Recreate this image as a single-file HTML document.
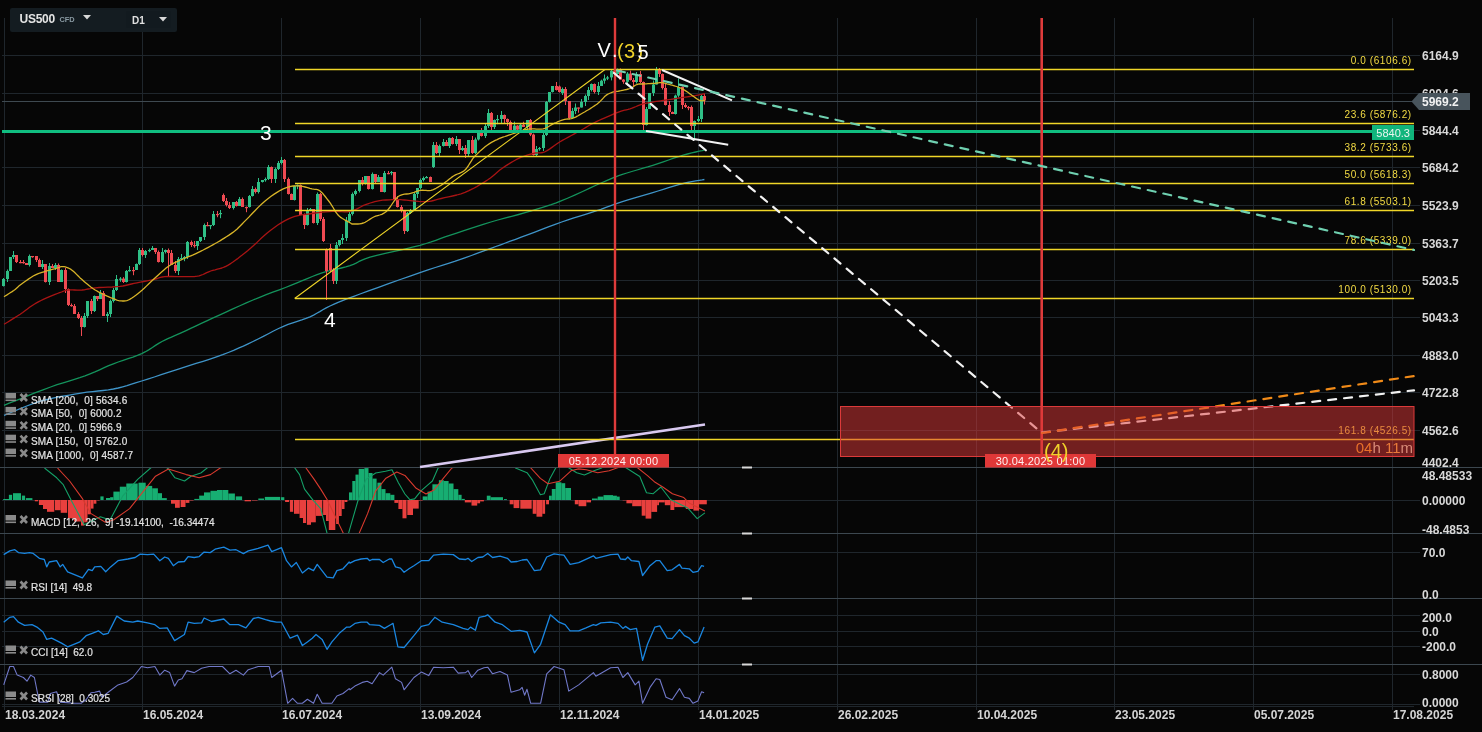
<!DOCTYPE html><html><head><meta charset="utf-8"><style>html,body{margin:0;padding:0;background:#060606;width:1482px;height:732px;overflow:hidden;position:relative}</style></head><body><svg width="1482" height="732" viewBox="0 0 1482 732" style="position:absolute;left:0;top:0;will-change:transform;font-family:'Liberation Sans', sans-serif">
<rect width="1482" height="732" fill="#060606"/>
<defs><clipPath id="cmain"><rect x="0" y="18" width="1420" height="449"/></clipPath><clipPath id="cmacd"><rect x="0" y="468" width="1420" height="65"/></clipPath><clipPath id="crsi"><rect x="0" y="534" width="1420" height="64"/></clipPath><clipPath id="ccci"><rect x="0" y="599" width="1420" height="65"/></clipPath><clipPath id="csrsi"><rect x="0" y="665" width="1420" height="44"/></clipPath></defs>
<line x1="4.5" y1="18" x2="4.5" y2="710" stroke="#1f262c" stroke-width="1"/>
<line x1="142.5" y1="18" x2="142.5" y2="710" stroke="#1f262c" stroke-width="1"/>
<line x1="281.5" y1="18" x2="281.5" y2="710" stroke="#1f262c" stroke-width="1"/>
<line x1="420.5" y1="18" x2="420.5" y2="710" stroke="#1f262c" stroke-width="1"/>
<line x1="559.5" y1="18" x2="559.5" y2="710" stroke="#1f262c" stroke-width="1"/>
<line x1="698.5" y1="18" x2="698.5" y2="710" stroke="#1f262c" stroke-width="1"/>
<line x1="837.5" y1="18" x2="837.5" y2="710" stroke="#1f262c" stroke-width="1"/>
<line x1="976.5" y1="18" x2="976.5" y2="710" stroke="#1f262c" stroke-width="1"/>
<line x1="1114.5" y1="18" x2="1114.5" y2="710" stroke="#1f262c" stroke-width="1"/>
<line x1="1253.5" y1="18" x2="1253.5" y2="710" stroke="#1f262c" stroke-width="1"/>
<line x1="1392.5" y1="18" x2="1392.5" y2="710" stroke="#1f262c" stroke-width="1"/>
<line x1="2" y1="55.5" x2="1420" y2="55.5" stroke="#1f262c" stroke-width="1"/>
<line x1="2" y1="93.5" x2="1420" y2="93.5" stroke="#1f262c" stroke-width="1"/>
<line x1="2" y1="130.5" x2="1420" y2="130.5" stroke="#1f262c" stroke-width="1"/>
<line x1="2" y1="167.5" x2="1420" y2="167.5" stroke="#1f262c" stroke-width="1"/>
<line x1="2" y1="205.5" x2="1420" y2="205.5" stroke="#1f262c" stroke-width="1"/>
<line x1="2" y1="243.5" x2="1420" y2="243.5" stroke="#1f262c" stroke-width="1"/>
<line x1="2" y1="280.5" x2="1420" y2="280.5" stroke="#1f262c" stroke-width="1"/>
<line x1="2" y1="317.5" x2="1420" y2="317.5" stroke="#1f262c" stroke-width="1"/>
<line x1="2" y1="355.5" x2="1420" y2="355.5" stroke="#1f262c" stroke-width="1"/>
<line x1="2" y1="392.5" x2="1420" y2="392.5" stroke="#1f262c" stroke-width="1"/>
<line x1="2" y1="430.5" x2="1420" y2="430.5" stroke="#1f262c" stroke-width="1"/>
<line x1="2" y1="552.5" x2="1420" y2="552.5" stroke="#1f262c" stroke-width="1"/>
<line x1="2" y1="615.5" x2="1420" y2="615.5" stroke="#1f262c" stroke-width="1"/>
<line x1="2" y1="631.5" x2="1420" y2="631.5" stroke="#1f262c" stroke-width="1"/>
<line x1="2" y1="646.5" x2="1420" y2="646.5" stroke="#1f262c" stroke-width="1"/>
<line x1="2" y1="674.5" x2="1420" y2="674.5" stroke="#1f262c" stroke-width="1"/>
<line x1="2" y1="704.5" x2="1420" y2="704.5" stroke="#1f262c" stroke-width="1"/>
<line x1="2" y1="706.5" x2="1414" y2="706.5" stroke="#1f262c" stroke-width="1"/>
<line x1="2" y1="500.5" x2="1420" y2="500.5" stroke="#1f262c" stroke-width="1"/>
<line x1="0" y1="467.5" x2="1482" y2="467.5" stroke="#3c474f" stroke-width="1.2"/>
<rect x="742" y="466.5" width="10" height="2" fill="#d8d8d8"/>
<line x1="0" y1="533.5" x2="1482" y2="533.5" stroke="#3c474f" stroke-width="1.2"/>
<rect x="742" y="532.5" width="10" height="2" fill="#d8d8d8"/>
<line x1="0" y1="598.5" x2="1482" y2="598.5" stroke="#3c474f" stroke-width="1.2"/>
<rect x="742" y="597.5" width="10" height="2" fill="#d8d8d8"/>
<line x1="0" y1="664.5" x2="1482" y2="664.5" stroke="#3c474f" stroke-width="1.2"/>
<rect x="742" y="663.5" width="10" height="2" fill="#d8d8d8"/>
<line x1="2" y1="101.5" x2="1412" y2="101.5" stroke="#3e4950" stroke-width="1"/>
<g clip-path="url(#cmain)">
<path d="M4.0,415.4 L7.9,413.8 L13.3,411.5 L19.7,408.8 L26.7,406.0 L33.8,403.4 L40.5,401.2 L47.1,399.5 L54.0,397.9 L61.0,396.5 L68.0,395.3 L74.7,394.1 L81.0,393.1 L86.9,392.2 L92.6,391.6 L98.0,391.0 L103.2,390.5 L108.3,389.9 L113.4,389.0 L118.2,388.0 L122.7,386.8 L127.0,385.6 L131.5,384.2 L136.3,382.7 L141.7,381.0 L147.7,379.1 L154.3,377.0 L161.2,374.7 L168.2,372.4 L175.3,370.1 L182.2,367.8 L189.1,365.6 L196.1,363.4 L203.1,361.3 L210.0,359.1 L216.5,356.9 L222.7,354.7 L228.3,352.5 L233.6,350.4 L238.5,348.2 L243.3,346.1 L248.1,343.8 L253.0,341.5 L258.1,339.0 L263.3,336.4 L268.4,333.7 L273.5,331.0 L278.6,328.5 L283.4,326.3 L288.1,324.4 L292.8,322.8 L297.3,321.3 L301.8,319.9 L306.0,318.4 L310.0,316.8 L313.6,315.1 L316.8,313.3 L319.8,311.6 L322.8,309.7 L326.2,307.9 L330.0,306.0 L334.1,304.2 L338.1,302.4 L342.5,300.7 L347.4,298.7 L353.1,296.6 L360.0,294.0 L368.5,290.9 L378.5,287.3 L389.3,283.4 L400.3,279.5 L410.8,275.8 L420.0,272.6 L428.0,269.9 L435.3,267.5 L442.1,265.4 L448.5,263.3 L454.6,261.4 L460.5,259.4 L466.2,257.4 L471.4,255.5 L476.3,253.7 L481.1,251.9 L486.0,250.1 L490.9,248.3 L495.8,246.5 L500.6,244.8 L505.4,243.0 L510.3,241.2 L515.6,239.3 L521.2,237.2 L527.4,234.9 L534.2,232.3 L541.2,229.6 L548.3,226.9 L555.2,224.3 L561.7,222.0 L567.9,219.9 L573.9,217.9 L579.8,216.1 L585.5,214.3 L590.9,212.6 L596.1,210.9 L600.9,209.3 L605.3,207.7 L609.5,206.2 L613.6,204.7 L617.9,203.2 L622.4,201.7 L627.2,200.2 L632.2,198.7 L637.3,197.1 L642.5,195.6 L647.7,194.1 L652.8,192.6 L658.0,191.0 L663.3,189.4 L668.6,187.7 L673.7,186.2 L678.7,184.7 L683.2,183.5 L687.5,182.5 L691.7,181.6 L695.7,180.9 L699.2,180.3 L702.2,179.9 L704.4,179.5" fill="none" stroke="#3f94c8" stroke-width="1.3" stroke-linejoin="round" />
<path d="M4.0,405.3 L9.2,403.2 L16.5,400.3 L25.2,396.8 L34.2,393.2 L43.0,389.8 L50.6,387.0 L57.1,384.7 L63.2,382.8 L68.9,381.1 L74.4,379.4 L79.8,377.7 L85.0,375.9 L90.1,373.9 L94.9,371.9 L99.6,369.8 L104.2,367.7 L108.7,365.7 L113.4,363.8 L118.2,362.0 L123.1,360.3 L128.1,358.7 L132.9,357.1 L137.4,355.4 L141.7,353.6 L145.5,351.7 L149.1,349.6 L152.4,347.5 L155.5,345.4 L158.7,343.4 L162.0,341.5 L165.3,339.9 L168.4,338.4 L171.5,337.1 L174.7,335.7 L178.2,334.2 L182.2,332.4 L186.6,330.4 L191.2,328.2 L196.1,325.9 L201.3,323.4 L206.8,320.9 L212.6,318.2 L218.8,315.4 L225.4,312.3 L232.3,309.1 L239.3,306.0 L246.3,302.9 L253.0,300.0 L259.6,297.3 L266.2,294.7 L272.8,292.2 L279.3,289.8 L285.5,287.5 L291.4,285.2 L297.0,282.9 L302.3,280.7 L307.3,278.6 L312.3,276.5 L317.1,274.6 L322.0,272.9 L326.9,271.4 L331.8,270.2 L336.7,269.1 L341.4,268.0 L345.8,266.9 L350.0,265.7 L353.4,264.4 L356.1,263.1 L358.6,261.7 L361.4,260.3 L365.0,258.8 L370.0,257.2 L376.8,255.4 L385.2,253.4 L394.3,251.4 L403.7,249.3 L412.5,247.2 L420.0,245.3 L426.1,243.5 L431.2,241.9 L435.8,240.3 L440.2,238.7 L445.0,236.9 L450.4,235.1 L456.6,233.1 L463.2,230.9 L470.0,228.6 L477.0,226.3 L484.0,224.1 L490.9,222.0 L497.8,220.0 L504.7,218.1 L511.7,216.3 L518.6,214.5 L525.1,212.7 L531.3,210.9 L536.8,209.2 L541.8,207.7 L546.5,206.2 L551.2,204.7 L556.2,202.9 L561.7,200.7 L568.1,198.0 L575.2,194.9 L582.6,191.5 L589.8,188.1 L596.5,185.0 L602.2,182.5 L606.6,180.6 L610.1,179.1 L612.9,177.9 L615.7,176.8 L618.7,175.7 L622.4,174.4 L626.9,173.0 L631.8,171.5 L637.0,170.0 L642.3,168.4 L647.6,166.9 L652.8,165.3 L658.0,163.6 L663.3,161.8 L668.6,160.0 L673.7,158.2 L678.7,156.6 L683.2,155.2 L687.5,154.0 L691.7,152.9 L695.7,152.0 L699.2,151.2 L702.2,150.6 L704.4,150.1" fill="none" stroke="#14935c" stroke-width="1.3" stroke-linejoin="round" />
<rect x="3" y="278.0" width="1" height="8.5" fill="#2fbf86"/>
<rect x="2" y="279.0" width="3" height="7.0" fill="#2fbf86"/>
<rect x="7" y="269.5" width="1" height="12.5" fill="#2fbf86"/>
<rect x="6" y="271.0" width="3" height="8.0" fill="#2fbf86"/>
<rect x="10" y="257.0" width="1" height="14.0" fill="#2fbf86"/>
<rect x="9" y="257.0" width="3" height="14.0" fill="#2fbf86"/>
<rect x="13" y="251.0" width="1" height="8.0" fill="#2fbf86"/>
<rect x="12" y="255.0" width="3" height="2.0" fill="#2fbf86"/>
<rect x="16" y="255.0" width="1" height="8.0" fill="#ef4a52"/>
<rect x="15" y="255.0" width="3" height="7.0" fill="#ef4a52"/>
<rect x="20" y="260.0" width="1" height="3.2" fill="#ef4a52"/>
<rect x="19" y="262.0" width="3" height="1.2" fill="#ef4a52"/>
<rect x="23" y="260.0" width="1" height="3.7" fill="#ef4a52"/>
<rect x="22" y="262.0" width="3" height="1.2" fill="#ef4a52"/>
<rect x="26" y="263.0" width="1" height="2.0" fill="#ef4a52"/>
<rect x="25" y="263.0" width="3" height="2.0" fill="#ef4a52"/>
<rect x="29" y="254.5" width="1" height="12.0" fill="#2fbf86"/>
<rect x="28" y="256.0" width="3" height="9.0" fill="#2fbf86"/>
<rect x="32" y="256.0" width="1" height="1.7" fill="#ef4a52"/>
<rect x="31" y="256.0" width="3" height="1.2" fill="#ef4a52"/>
<rect x="36" y="256.0" width="1" height="6.0" fill="#ef4a52"/>
<rect x="35" y="256.0" width="3" height="4.0" fill="#ef4a52"/>
<rect x="39" y="258.5" width="1" height="8.5" fill="#ef4a52"/>
<rect x="38" y="260.0" width="3" height="7.0" fill="#ef4a52"/>
<rect x="42" y="260.0" width="1" height="9.0" fill="#2fbf86"/>
<rect x="41" y="264.0" width="3" height="3.0" fill="#2fbf86"/>
<rect x="45" y="264.0" width="1" height="18.5" fill="#ef4a52"/>
<rect x="44" y="264.0" width="3" height="18.0" fill="#ef4a52"/>
<rect x="49" y="263.0" width="1" height="22.0" fill="#2fbf86"/>
<rect x="48" y="266.0" width="3" height="16.0" fill="#2fbf86"/>
<rect x="52" y="264.0" width="1" height="4.0" fill="#ef4a52"/>
<rect x="51" y="266.0" width="3" height="2.0" fill="#ef4a52"/>
<rect x="55" y="263.0" width="1" height="7.0" fill="#2fbf86"/>
<rect x="54" y="265.0" width="3" height="3.0" fill="#2fbf86"/>
<rect x="58" y="263.5" width="1" height="18.5" fill="#ef4a52"/>
<rect x="57" y="265.0" width="3" height="17.0" fill="#ef4a52"/>
<rect x="61" y="269.5" width="1" height="12.5" fill="#2fbf86"/>
<rect x="60" y="270.0" width="3" height="12.0" fill="#2fbf86"/>
<rect x="65" y="268.0" width="1" height="25.0" fill="#ef4a52"/>
<rect x="64" y="270.0" width="3" height="19.0" fill="#ef4a52"/>
<rect x="68" y="288.5" width="1" height="17.5" fill="#ef4a52"/>
<rect x="67" y="289.0" width="3" height="16.0" fill="#ef4a52"/>
<rect x="71" y="303.5" width="1" height="3.2" fill="#ef4a52"/>
<rect x="70" y="305.0" width="3" height="1.2" fill="#ef4a52"/>
<rect x="74" y="304.0" width="1" height="10.0" fill="#ef4a52"/>
<rect x="73" y="306.0" width="3" height="8.0" fill="#ef4a52"/>
<rect x="78" y="312.0" width="1" height="7.0" fill="#ef4a52"/>
<rect x="77" y="314.0" width="3" height="4.0" fill="#ef4a52"/>
<rect x="81" y="316.0" width="1" height="20.0" fill="#ef4a52"/>
<rect x="80" y="318.0" width="3" height="9.0" fill="#ef4a52"/>
<rect x="84" y="313.0" width="1" height="14.5" fill="#2fbf86"/>
<rect x="83" y="316.0" width="3" height="11.0" fill="#2fbf86"/>
<rect x="87" y="301.0" width="1" height="17.0" fill="#2fbf86"/>
<rect x="86" y="301.0" width="3" height="15.0" fill="#2fbf86"/>
<rect x="91" y="299.0" width="1" height="15.0" fill="#ef4a52"/>
<rect x="90" y="301.0" width="3" height="10.0" fill="#ef4a52"/>
<rect x="94" y="295.5" width="1" height="16.5" fill="#2fbf86"/>
<rect x="93" y="296.0" width="3" height="15.0" fill="#2fbf86"/>
<rect x="97" y="296.0" width="1" height="5.0" fill="#ef4a52"/>
<rect x="96" y="296.0" width="3" height="3.0" fill="#ef4a52"/>
<rect x="100" y="290.0" width="1" height="9.0" fill="#2fbf86"/>
<rect x="99" y="293.0" width="3" height="6.0" fill="#2fbf86"/>
<rect x="103" y="291.0" width="1" height="25.0" fill="#ef4a52"/>
<rect x="102" y="293.0" width="3" height="23.0" fill="#ef4a52"/>
<rect x="107" y="312.0" width="1" height="10.0" fill="#2fbf86"/>
<rect x="106" y="314.0" width="3" height="2.0" fill="#2fbf86"/>
<rect x="110" y="299.5" width="1" height="17.5" fill="#2fbf86"/>
<rect x="109" y="301.0" width="3" height="13.0" fill="#2fbf86"/>
<rect x="113" y="288.0" width="1" height="14.5" fill="#2fbf86"/>
<rect x="112" y="290.0" width="3" height="11.0" fill="#2fbf86"/>
<rect x="116" y="275.0" width="1" height="16.0" fill="#2fbf86"/>
<rect x="115" y="279.0" width="3" height="11.0" fill="#2fbf86"/>
<rect x="120" y="277.1" width="1" height="4.7" fill="#2fbf86"/>
<rect x="119" y="278.6" width="3" height="1.2" fill="#2fbf86"/>
<rect x="123" y="277.1" width="1" height="5.9" fill="#ef4a52"/>
<rect x="122" y="278.6" width="3" height="3.4" fill="#ef4a52"/>
<rect x="126" y="270.0" width="1" height="12.5" fill="#2fbf86"/>
<rect x="125" y="271.0" width="3" height="11.0" fill="#2fbf86"/>
<rect x="129" y="266.0" width="1" height="5.7" fill="#2fbf86"/>
<rect x="128" y="270.0" width="3" height="1.2" fill="#2fbf86"/>
<rect x="133" y="267.0" width="1" height="8.2" fill="#ef4a52"/>
<rect x="132" y="270.0" width="3" height="1.2" fill="#ef4a52"/>
<rect x="136" y="263.5" width="1" height="6.5" fill="#2fbf86"/>
<rect x="135" y="264.0" width="3" height="6.0" fill="#2fbf86"/>
<rect x="139" y="248.0" width="1" height="17.0" fill="#2fbf86"/>
<rect x="138" y="250.0" width="3" height="14.0" fill="#2fbf86"/>
<rect x="142" y="248.0" width="1" height="8.5" fill="#ef4a52"/>
<rect x="141" y="250.0" width="3" height="5.0" fill="#ef4a52"/>
<rect x="145" y="250.0" width="1" height="8.0" fill="#2fbf86"/>
<rect x="144" y="251.0" width="3" height="4.0" fill="#2fbf86"/>
<rect x="149" y="248.5" width="1" height="3.7" fill="#2fbf86"/>
<rect x="148" y="250.0" width="3" height="1.2" fill="#2fbf86"/>
<rect x="152" y="246.0" width="1" height="4.0" fill="#2fbf86"/>
<rect x="151" y="248.0" width="3" height="2.0" fill="#2fbf86"/>
<rect x="155" y="248.0" width="1" height="6.0" fill="#ef4a52"/>
<rect x="154" y="248.0" width="3" height="4.0" fill="#ef4a52"/>
<rect x="158" y="250.5" width="1" height="12.0" fill="#ef4a52"/>
<rect x="157" y="252.0" width="3" height="10.0" fill="#ef4a52"/>
<rect x="162" y="248.0" width="1" height="15.0" fill="#2fbf86"/>
<rect x="161" y="252.0" width="3" height="10.0" fill="#2fbf86"/>
<rect x="165" y="249.5" width="1" height="4.0" fill="#2fbf86"/>
<rect x="164" y="250.0" width="3" height="2.0" fill="#2fbf86"/>
<rect x="168" y="248.5" width="1" height="27.5" fill="#ef4a52"/>
<rect x="167" y="250.0" width="3" height="3.0" fill="#ef4a52"/>
<rect x="171" y="250.0" width="1" height="15.0" fill="#ef4a52"/>
<rect x="170" y="253.0" width="3" height="12.0" fill="#ef4a52"/>
<rect x="175" y="261.0" width="1" height="12.0" fill="#ef4a52"/>
<rect x="174" y="265.0" width="3" height="6.0" fill="#ef4a52"/>
<rect x="178" y="257.0" width="1" height="18.0" fill="#2fbf86"/>
<rect x="177" y="259.0" width="3" height="12.0" fill="#2fbf86"/>
<rect x="181" y="254.0" width="1" height="6.2" fill="#2fbf86"/>
<rect x="180" y="258.0" width="3" height="1.2" fill="#2fbf86"/>
<rect x="184" y="256.0" width="1" height="5.2" fill="#2fbf86"/>
<rect x="183" y="257.0" width="3" height="1.2" fill="#2fbf86"/>
<rect x="187" y="241.0" width="1" height="18.0" fill="#2fbf86"/>
<rect x="186" y="242.0" width="3" height="15.0" fill="#2fbf86"/>
<rect x="191" y="240.5" width="1" height="6.5" fill="#ef4a52"/>
<rect x="190" y="242.0" width="3" height="3.0" fill="#ef4a52"/>
<rect x="194" y="241.0" width="1" height="6.7" fill="#ef4a52"/>
<rect x="193" y="245.0" width="3" height="1.2" fill="#ef4a52"/>
<rect x="197" y="241.0" width="1" height="9.0" fill="#2fbf86"/>
<rect x="196" y="241.0" width="3" height="5.0" fill="#2fbf86"/>
<rect x="200" y="237.0" width="1" height="5.0" fill="#2fbf86"/>
<rect x="199" y="237.0" width="3" height="4.0" fill="#2fbf86"/>
<rect x="204" y="223.5" width="1" height="16.5" fill="#2fbf86"/>
<rect x="203" y="225.0" width="3" height="12.0" fill="#2fbf86"/>
<rect x="207" y="222.0" width="1" height="4.2" fill="#ef4a52"/>
<rect x="206" y="225.0" width="3" height="1.2" fill="#ef4a52"/>
<rect x="210" y="225.0" width="1" height="4.2" fill="#2fbf86"/>
<rect x="209" y="225.0" width="3" height="1.2" fill="#2fbf86"/>
<rect x="213" y="211.0" width="1" height="15.0" fill="#2fbf86"/>
<rect x="212" y="214.0" width="3" height="11.0" fill="#2fbf86"/>
<rect x="217" y="211.0" width="1" height="6.2" fill="#ef4a52"/>
<rect x="216" y="214.0" width="3" height="1.2" fill="#ef4a52"/>
<rect x="220" y="210.0" width="1" height="8.2" fill="#2fbf86"/>
<rect x="219" y="213.0" width="3" height="1.2" fill="#2fbf86"/>
<rect x="223" y="193.5" width="1" height="8.5" fill="#ef4a52"/>
<rect x="222" y="195.0" width="3" height="6.0" fill="#ef4a52"/>
<rect x="226" y="198.0" width="1" height="8.5" fill="#ef4a52"/>
<rect x="225" y="201.0" width="3" height="4.0" fill="#ef4a52"/>
<rect x="229" y="202.0" width="1" height="7.0" fill="#ef4a52"/>
<rect x="228" y="205.0" width="3" height="3.0" fill="#ef4a52"/>
<rect x="233" y="202.0" width="1" height="7.5" fill="#2fbf86"/>
<rect x="232" y="202.0" width="3" height="6.0" fill="#2fbf86"/>
<rect x="236" y="201.0" width="1" height="5.5" fill="#ef4a52"/>
<rect x="235" y="202.0" width="3" height="4.0" fill="#ef4a52"/>
<rect x="239" y="197.0" width="1" height="9.0" fill="#2fbf86"/>
<rect x="238" y="199.0" width="3" height="7.0" fill="#2fbf86"/>
<rect x="242" y="197.5" width="1" height="9.5" fill="#ef4a52"/>
<rect x="241" y="199.0" width="3" height="8.0" fill="#ef4a52"/>
<rect x="246" y="206.5" width="1" height="5.7" fill="#ef4a52"/>
<rect x="245" y="207.0" width="3" height="1.2" fill="#ef4a52"/>
<rect x="249" y="195.0" width="1" height="12.5" fill="#2fbf86"/>
<rect x="248" y="196.0" width="3" height="11.0" fill="#2fbf86"/>
<rect x="252" y="186.0" width="1" height="10.5" fill="#2fbf86"/>
<rect x="251" y="189.0" width="3" height="7.0" fill="#2fbf86"/>
<rect x="255" y="187.5" width="1" height="6.0" fill="#ef4a52"/>
<rect x="254" y="189.0" width="3" height="3.0" fill="#ef4a52"/>
<rect x="258" y="178.0" width="1" height="15.5" fill="#2fbf86"/>
<rect x="257" y="182.0" width="3" height="10.0" fill="#2fbf86"/>
<rect x="262" y="180.0" width="1" height="2.5" fill="#2fbf86"/>
<rect x="261" y="180.0" width="3" height="2.0" fill="#2fbf86"/>
<rect x="265" y="177.5" width="1" height="4.2" fill="#2fbf86"/>
<rect x="264" y="179.0" width="3" height="1.2" fill="#2fbf86"/>
<rect x="268" y="165.0" width="1" height="15.0" fill="#2fbf86"/>
<rect x="267" y="167.0" width="3" height="12.0" fill="#2fbf86"/>
<rect x="271" y="166.5" width="1" height="16.5" fill="#ef4a52"/>
<rect x="270" y="167.0" width="3" height="12.0" fill="#ef4a52"/>
<rect x="275" y="167.5" width="1" height="15.5" fill="#2fbf86"/>
<rect x="274" y="169.0" width="3" height="10.0" fill="#2fbf86"/>
<rect x="278" y="161.0" width="1" height="9.0" fill="#2fbf86"/>
<rect x="277" y="163.0" width="3" height="6.0" fill="#2fbf86"/>
<rect x="281" y="157.0" width="1" height="7.5" fill="#2fbf86"/>
<rect x="280" y="160.0" width="3" height="3.0" fill="#2fbf86"/>
<rect x="284" y="159.0" width="1" height="23.0" fill="#ef4a52"/>
<rect x="283" y="160.0" width="3" height="19.0" fill="#ef4a52"/>
<rect x="288" y="177.5" width="1" height="17.0" fill="#ef4a52"/>
<rect x="287" y="179.0" width="3" height="15.0" fill="#ef4a52"/>
<rect x="291" y="193.5" width="1" height="6.5" fill="#ef4a52"/>
<rect x="290" y="194.0" width="3" height="6.0" fill="#ef4a52"/>
<rect x="294" y="185.5" width="1" height="15.0" fill="#2fbf86"/>
<rect x="293" y="186.0" width="3" height="14.0" fill="#2fbf86"/>
<rect x="297" y="184.5" width="1" height="4.7" fill="#2fbf86"/>
<rect x="296" y="185.0" width="3" height="1.2" fill="#2fbf86"/>
<rect x="300" y="184.5" width="1" height="30.5" fill="#ef4a52"/>
<rect x="299" y="185.0" width="3" height="30.0" fill="#ef4a52"/>
<rect x="304" y="213.5" width="1" height="15.5" fill="#ef4a52"/>
<rect x="303" y="215.0" width="3" height="10.0" fill="#ef4a52"/>
<rect x="307" y="208.0" width="1" height="17.5" fill="#2fbf86"/>
<rect x="306" y="210.0" width="3" height="15.0" fill="#2fbf86"/>
<rect x="310" y="208.0" width="1" height="3.2" fill="#2fbf86"/>
<rect x="309" y="209.0" width="3" height="1.2" fill="#2fbf86"/>
<rect x="313" y="209.0" width="1" height="14.5" fill="#ef4a52"/>
<rect x="312" y="209.0" width="3" height="14.0" fill="#ef4a52"/>
<rect x="317" y="192.5" width="1" height="32.5" fill="#2fbf86"/>
<rect x="316" y="194.0" width="3" height="29.0" fill="#2fbf86"/>
<rect x="320" y="193.0" width="1" height="28.0" fill="#ef4a52"/>
<rect x="319" y="194.0" width="3" height="25.0" fill="#ef4a52"/>
<rect x="323" y="217.0" width="1" height="25.0" fill="#ef4a52"/>
<rect x="322" y="219.0" width="3" height="22.0" fill="#ef4a52"/>
<rect x="326" y="248.5" width="1" height="51.5" fill="#ef4a52"/>
<rect x="325" y="249.0" width="3" height="22.0" fill="#ef4a52"/>
<rect x="330" y="244.0" width="1" height="28.0" fill="#ef4a52"/>
<rect x="329" y="248.0" width="3" height="22.0" fill="#ef4a52"/>
<rect x="333" y="268.0" width="1" height="16.0" fill="#ef4a52"/>
<rect x="332" y="270.0" width="3" height="11.0" fill="#ef4a52"/>
<rect x="336" y="242.0" width="1" height="42.0" fill="#2fbf86"/>
<rect x="335" y="245.0" width="3" height="36.0" fill="#2fbf86"/>
<rect x="339" y="240.0" width="1" height="6.5" fill="#2fbf86"/>
<rect x="338" y="240.0" width="3" height="5.0" fill="#2fbf86"/>
<rect x="342" y="234.0" width="1" height="10.0" fill="#2fbf86"/>
<rect x="341" y="238.0" width="3" height="2.0" fill="#2fbf86"/>
<rect x="346" y="217.0" width="1" height="24.0" fill="#2fbf86"/>
<rect x="345" y="221.0" width="3" height="17.0" fill="#2fbf86"/>
<rect x="349" y="210.0" width="1" height="13.0" fill="#2fbf86"/>
<rect x="348" y="214.0" width="3" height="7.0" fill="#2fbf86"/>
<rect x="352" y="192.5" width="1" height="23.0" fill="#2fbf86"/>
<rect x="351" y="194.0" width="3" height="20.0" fill="#2fbf86"/>
<rect x="355" y="189.5" width="1" height="6.0" fill="#2fbf86"/>
<rect x="354" y="191.0" width="3" height="3.0" fill="#2fbf86"/>
<rect x="359" y="180.0" width="1" height="12.5" fill="#2fbf86"/>
<rect x="358" y="180.0" width="3" height="11.0" fill="#2fbf86"/>
<rect x="362" y="177.0" width="1" height="8.5" fill="#ef4a52"/>
<rect x="361" y="180.0" width="3" height="4.0" fill="#ef4a52"/>
<rect x="365" y="176.0" width="1" height="8.5" fill="#2fbf86"/>
<rect x="364" y="176.0" width="3" height="8.0" fill="#2fbf86"/>
<rect x="368" y="176.0" width="1" height="13.5" fill="#ef4a52"/>
<rect x="367" y="176.0" width="3" height="13.0" fill="#ef4a52"/>
<rect x="372" y="172.5" width="1" height="17.0" fill="#2fbf86"/>
<rect x="371" y="174.0" width="3" height="15.0" fill="#2fbf86"/>
<rect x="375" y="174.0" width="1" height="9.0" fill="#ef4a52"/>
<rect x="374" y="174.0" width="3" height="8.0" fill="#ef4a52"/>
<rect x="378" y="175.0" width="1" height="7.0" fill="#2fbf86"/>
<rect x="377" y="177.0" width="3" height="5.0" fill="#2fbf86"/>
<rect x="381" y="177.0" width="1" height="15.0" fill="#ef4a52"/>
<rect x="380" y="177.0" width="3" height="15.0" fill="#ef4a52"/>
<rect x="384" y="171.0" width="1" height="21.5" fill="#2fbf86"/>
<rect x="383" y="173.0" width="3" height="19.0" fill="#2fbf86"/>
<rect x="388" y="171.0" width="1" height="3.2" fill="#ef4a52"/>
<rect x="387" y="173.0" width="3" height="1.2" fill="#ef4a52"/>
<rect x="391" y="171.0" width="1" height="4.2" fill="#2fbf86"/>
<rect x="390" y="172.0" width="3" height="1.2" fill="#2fbf86"/>
<rect x="394" y="172.0" width="1" height="28.0" fill="#ef4a52"/>
<rect x="393" y="172.0" width="3" height="28.0" fill="#ef4a52"/>
<rect x="397" y="196.0" width="1" height="11.5" fill="#ef4a52"/>
<rect x="396" y="200.0" width="3" height="7.0" fill="#ef4a52"/>
<rect x="401" y="205.0" width="1" height="7.5" fill="#ef4a52"/>
<rect x="400" y="207.0" width="3" height="4.0" fill="#ef4a52"/>
<rect x="404" y="210.5" width="1" height="23.5" fill="#ef4a52"/>
<rect x="403" y="211.0" width="3" height="20.0" fill="#ef4a52"/>
<rect x="407" y="212.0" width="1" height="20.0" fill="#2fbf86"/>
<rect x="406" y="213.0" width="3" height="18.0" fill="#2fbf86"/>
<rect x="410" y="209.0" width="1" height="5.0" fill="#2fbf86"/>
<rect x="409" y="211.0" width="3" height="2.0" fill="#2fbf86"/>
<rect x="414" y="192.5" width="1" height="18.5" fill="#2fbf86"/>
<rect x="413" y="194.0" width="3" height="17.0" fill="#2fbf86"/>
<rect x="417" y="188.0" width="1" height="10.0" fill="#2fbf86"/>
<rect x="416" y="188.0" width="3" height="6.0" fill="#2fbf86"/>
<rect x="420" y="178.5" width="1" height="11.0" fill="#2fbf86"/>
<rect x="419" y="180.0" width="3" height="8.0" fill="#2fbf86"/>
<rect x="423" y="176.5" width="1" height="5.0" fill="#2fbf86"/>
<rect x="422" y="178.0" width="3" height="2.0" fill="#2fbf86"/>
<rect x="426" y="176.0" width="1" height="2.2" fill="#2fbf86"/>
<rect x="425" y="177.0" width="3" height="1.2" fill="#2fbf86"/>
<rect x="430" y="176.5" width="1" height="5.5" fill="#ef4a52"/>
<rect x="429" y="177.0" width="3" height="5.0" fill="#ef4a52"/>
<rect x="433" y="142.0" width="1" height="26.0" fill="#2fbf86"/>
<rect x="432" y="145.0" width="3" height="22.0" fill="#2fbf86"/>
<rect x="436" y="142.0" width="1" height="12.0" fill="#ef4a52"/>
<rect x="435" y="145.0" width="3" height="8.0" fill="#ef4a52"/>
<rect x="439" y="144.5" width="1" height="12.5" fill="#2fbf86"/>
<rect x="438" y="146.0" width="3" height="7.0" fill="#2fbf86"/>
<rect x="443" y="139.0" width="1" height="7.5" fill="#2fbf86"/>
<rect x="442" y="142.0" width="3" height="4.0" fill="#2fbf86"/>
<rect x="446" y="140.0" width="1" height="6.0" fill="#ef4a52"/>
<rect x="445" y="142.0" width="3" height="4.0" fill="#ef4a52"/>
<rect x="449" y="137.5" width="1" height="10.5" fill="#2fbf86"/>
<rect x="448" y="138.0" width="3" height="8.0" fill="#2fbf86"/>
<rect x="452" y="137.0" width="1" height="7.5" fill="#ef4a52"/>
<rect x="451" y="138.0" width="3" height="6.0" fill="#ef4a52"/>
<rect x="456" y="136.0" width="1" height="10.0" fill="#2fbf86"/>
<rect x="455" y="139.0" width="3" height="5.0" fill="#2fbf86"/>
<rect x="459" y="139.0" width="1" height="15.0" fill="#ef4a52"/>
<rect x="458" y="139.0" width="3" height="11.0" fill="#ef4a52"/>
<rect x="462" y="146.0" width="1" height="5.0" fill="#2fbf86"/>
<rect x="461" y="148.0" width="3" height="2.0" fill="#2fbf86"/>
<rect x="465" y="145.0" width="1" height="13.0" fill="#ef4a52"/>
<rect x="464" y="148.0" width="3" height="6.0" fill="#ef4a52"/>
<rect x="468" y="140.0" width="1" height="17.0" fill="#2fbf86"/>
<rect x="467" y="140.0" width="3" height="14.0" fill="#2fbf86"/>
<rect x="472" y="136.0" width="1" height="18.0" fill="#ef4a52"/>
<rect x="471" y="140.0" width="3" height="13.0" fill="#ef4a52"/>
<rect x="475" y="137.5" width="1" height="16.5" fill="#2fbf86"/>
<rect x="474" y="139.5" width="3" height="13.5" fill="#2fbf86"/>
<rect x="478" y="131.5" width="1" height="9.0" fill="#2fbf86"/>
<rect x="477" y="132.0" width="3" height="7.5" fill="#2fbf86"/>
<rect x="481" y="128.0" width="1" height="8.5" fill="#ef4a52"/>
<rect x="480" y="132.0" width="3" height="4.0" fill="#ef4a52"/>
<rect x="485" y="124.0" width="1" height="14.0" fill="#2fbf86"/>
<rect x="484" y="126.0" width="3" height="10.0" fill="#2fbf86"/>
<rect x="488" y="109.0" width="1" height="19.0" fill="#2fbf86"/>
<rect x="487" y="113.0" width="3" height="13.0" fill="#2fbf86"/>
<rect x="491" y="112.0" width="1" height="18.0" fill="#ef4a52"/>
<rect x="490" y="113.0" width="3" height="14.0" fill="#ef4a52"/>
<rect x="494" y="119.5" width="1" height="9.5" fill="#2fbf86"/>
<rect x="493" y="120.0" width="3" height="7.0" fill="#2fbf86"/>
<rect x="497" y="115.0" width="1" height="9.2" fill="#2fbf86"/>
<rect x="496" y="119.0" width="3" height="1.2" fill="#2fbf86"/>
<rect x="501" y="111.0" width="1" height="12.0" fill="#2fbf86"/>
<rect x="500" y="115.0" width="3" height="4.0" fill="#2fbf86"/>
<rect x="504" y="114.5" width="1" height="8.5" fill="#ef4a52"/>
<rect x="503" y="115.0" width="3" height="4.0" fill="#ef4a52"/>
<rect x="507" y="118.5" width="1" height="7.5" fill="#ef4a52"/>
<rect x="506" y="119.0" width="3" height="3.0" fill="#ef4a52"/>
<rect x="510" y="120.5" width="1" height="12.5" fill="#ef4a52"/>
<rect x="509" y="122.0" width="3" height="8.0" fill="#ef4a52"/>
<rect x="514" y="121.6" width="1" height="8.9" fill="#2fbf86"/>
<rect x="513" y="125.6" width="3" height="4.4" fill="#2fbf86"/>
<rect x="517" y="125.1" width="1" height="6.6" fill="#ef4a52"/>
<rect x="516" y="125.6" width="3" height="4.1" fill="#ef4a52"/>
<rect x="520" y="123.2" width="1" height="7.5" fill="#2fbf86"/>
<rect x="519" y="124.7" width="3" height="5.0" fill="#2fbf86"/>
<rect x="523" y="121.7" width="1" height="5.3" fill="#ef4a52"/>
<rect x="522" y="124.7" width="3" height="2.3" fill="#ef4a52"/>
<rect x="527" y="120.0" width="1" height="11.0" fill="#2fbf86"/>
<rect x="526" y="120.0" width="3" height="7.0" fill="#2fbf86"/>
<rect x="530" y="119.0" width="1" height="17.1" fill="#ef4a52"/>
<rect x="529" y="120.0" width="3" height="14.6" fill="#ef4a52"/>
<rect x="533" y="133.6" width="1" height="21.9" fill="#ef4a52"/>
<rect x="532" y="134.6" width="3" height="20.4" fill="#ef4a52"/>
<rect x="536" y="146.0" width="1" height="11.0" fill="#2fbf86"/>
<rect x="535" y="149.0" width="3" height="6.0" fill="#2fbf86"/>
<rect x="539" y="147.0" width="1" height="3.7" fill="#2fbf86"/>
<rect x="538" y="148.0" width="3" height="1.2" fill="#2fbf86"/>
<rect x="543" y="131.0" width="1" height="20.0" fill="#2fbf86"/>
<rect x="542" y="135.0" width="3" height="13.0" fill="#2fbf86"/>
<rect x="546" y="101.0" width="1" height="35.0" fill="#2fbf86"/>
<rect x="545" y="102.0" width="3" height="33.0" fill="#2fbf86"/>
<rect x="549" y="92.0" width="1" height="10.5" fill="#2fbf86"/>
<rect x="548" y="92.0" width="3" height="10.0" fill="#2fbf86"/>
<rect x="552" y="86.0" width="1" height="6.5" fill="#2fbf86"/>
<rect x="551" y="86.0" width="3" height="6.0" fill="#2fbf86"/>
<rect x="556" y="82.0" width="1" height="8.5" fill="#ef4a52"/>
<rect x="555" y="86.0" width="3" height="4.0" fill="#ef4a52"/>
<rect x="559" y="85.5" width="1" height="7.0" fill="#ef4a52"/>
<rect x="558" y="86.5" width="3" height="5.5" fill="#ef4a52"/>
<rect x="562" y="87.5" width="1" height="7.5" fill="#2fbf86"/>
<rect x="561" y="89.0" width="3" height="4.0" fill="#2fbf86"/>
<rect x="565" y="87.0" width="1" height="18.0" fill="#ef4a52"/>
<rect x="564" y="89.0" width="3" height="12.0" fill="#ef4a52"/>
<rect x="569" y="101.0" width="1" height="18.5" fill="#ef4a52"/>
<rect x="568" y="101.0" width="3" height="17.0" fill="#ef4a52"/>
<rect x="572" y="108.0" width="1" height="11.0" fill="#2fbf86"/>
<rect x="571" y="111.0" width="3" height="7.0" fill="#2fbf86"/>
<rect x="575" y="103.5" width="1" height="10.5" fill="#2fbf86"/>
<rect x="574" y="107.5" width="3" height="3.5" fill="#2fbf86"/>
<rect x="578" y="107.5" width="1" height="5.2" fill="#ef4a52"/>
<rect x="577" y="107.5" width="3" height="1.2" fill="#ef4a52"/>
<rect x="581" y="99.0" width="1" height="8.5" fill="#2fbf86"/>
<rect x="580" y="102.0" width="3" height="5.5" fill="#2fbf86"/>
<rect x="585" y="94.5" width="1" height="11.5" fill="#2fbf86"/>
<rect x="584" y="96.0" width="3" height="6.0" fill="#2fbf86"/>
<rect x="588" y="87.0" width="1" height="13.0" fill="#2fbf86"/>
<rect x="587" y="90.0" width="3" height="6.0" fill="#2fbf86"/>
<rect x="591" y="83.5" width="1" height="8.0" fill="#2fbf86"/>
<rect x="590" y="84.0" width="3" height="6.0" fill="#2fbf86"/>
<rect x="594" y="83.5" width="1" height="10.0" fill="#ef4a52"/>
<rect x="593" y="84.0" width="3" height="8.0" fill="#ef4a52"/>
<rect x="598" y="82.0" width="1" height="13.0" fill="#2fbf86"/>
<rect x="597" y="86.0" width="3" height="6.0" fill="#2fbf86"/>
<rect x="601" y="79.7" width="1" height="6.3" fill="#2fbf86"/>
<rect x="600" y="80.7" width="3" height="5.3" fill="#2fbf86"/>
<rect x="604" y="74.5" width="1" height="9.2" fill="#2fbf86"/>
<rect x="603" y="78.5" width="3" height="2.2" fill="#2fbf86"/>
<rect x="607" y="75.9" width="1" height="4.2" fill="#2fbf86"/>
<rect x="606" y="77.4" width="3" height="1.2" fill="#2fbf86"/>
<rect x="611" y="69.3" width="1" height="11.1" fill="#2fbf86"/>
<rect x="610" y="70.8" width="3" height="6.6" fill="#2fbf86"/>
<rect x="614" y="70.8" width="1" height="6.2" fill="#ef4a52"/>
<rect x="613" y="70.8" width="3" height="3.2" fill="#ef4a52"/>
<rect x="617" y="68.5" width="1" height="6.0" fill="#2fbf86"/>
<rect x="616" y="69.0" width="3" height="5.0" fill="#2fbf86"/>
<rect x="620" y="68.5" width="1" height="11.1" fill="#ef4a52"/>
<rect x="619" y="69.0" width="3" height="10.6" fill="#ef4a52"/>
<rect x="623" y="79.1" width="1" height="4.7" fill="#ef4a52"/>
<rect x="622" y="79.6" width="3" height="2.2" fill="#ef4a52"/>
<rect x="627" y="72.1" width="1" height="13.7" fill="#2fbf86"/>
<rect x="626" y="73.6" width="3" height="8.2" fill="#2fbf86"/>
<rect x="630" y="70.6" width="1" height="9.9" fill="#ef4a52"/>
<rect x="629" y="73.6" width="3" height="6.4" fill="#ef4a52"/>
<rect x="633" y="78.0" width="1" height="8.0" fill="#ef4a52"/>
<rect x="632" y="80.0" width="3" height="2.0" fill="#ef4a52"/>
<rect x="636" y="72.0" width="1" height="11.5" fill="#2fbf86"/>
<rect x="635" y="74.0" width="3" height="8.0" fill="#2fbf86"/>
<rect x="640" y="71.0" width="1" height="12.0" fill="#ef4a52"/>
<rect x="639" y="74.0" width="3" height="8.0" fill="#ef4a52"/>
<rect x="643" y="81.5" width="1" height="49.5" fill="#ef4a52"/>
<rect x="642" y="82.0" width="3" height="43.0" fill="#ef4a52"/>
<rect x="646" y="107.0" width="1" height="18.5" fill="#2fbf86"/>
<rect x="645" y="109.0" width="3" height="16.0" fill="#2fbf86"/>
<rect x="649" y="93.0" width="1" height="16.0" fill="#2fbf86"/>
<rect x="648" y="93.0" width="3" height="16.0" fill="#2fbf86"/>
<rect x="653" y="80.5" width="1" height="15.5" fill="#2fbf86"/>
<rect x="652" y="84.5" width="3" height="8.5" fill="#2fbf86"/>
<rect x="656" y="67.0" width="1" height="17.5" fill="#2fbf86"/>
<rect x="655" y="70.0" width="3" height="14.5" fill="#2fbf86"/>
<rect x="659" y="68.0" width="1" height="9.0" fill="#ef4a52"/>
<rect x="658" y="70.0" width="3" height="4.0" fill="#ef4a52"/>
<rect x="662" y="73.5" width="1" height="16.0" fill="#ef4a52"/>
<rect x="661" y="74.0" width="3" height="14.0" fill="#ef4a52"/>
<rect x="665" y="84.0" width="1" height="21.5" fill="#ef4a52"/>
<rect x="664" y="88.0" width="3" height="17.0" fill="#ef4a52"/>
<rect x="669" y="101.0" width="1" height="15.0" fill="#ef4a52"/>
<rect x="668" y="105.0" width="3" height="7.0" fill="#ef4a52"/>
<rect x="672" y="111.5" width="1" height="2.5" fill="#ef4a52"/>
<rect x="671" y="112.0" width="3" height="2.0" fill="#ef4a52"/>
<rect x="675" y="94.6" width="1" height="19.9" fill="#2fbf86"/>
<rect x="674" y="95.6" width="3" height="18.4" fill="#2fbf86"/>
<rect x="678" y="78.4" width="1" height="19.2" fill="#2fbf86"/>
<rect x="677" y="87.0" width="3" height="8.6" fill="#2fbf86"/>
<rect x="682" y="86.5" width="1" height="22.5" fill="#ef4a52"/>
<rect x="681" y="87.0" width="3" height="18.0" fill="#ef4a52"/>
<rect x="685" y="103.0" width="1" height="5.0" fill="#ef4a52"/>
<rect x="684" y="105.0" width="3" height="2.0" fill="#ef4a52"/>
<rect x="688" y="106.0" width="1" height="4.2" fill="#ef4a52"/>
<rect x="687" y="107.0" width="3" height="1.2" fill="#ef4a52"/>
<rect x="691" y="105.5" width="1" height="24.5" fill="#ef4a52"/>
<rect x="690" y="107.0" width="3" height="19.0" fill="#ef4a52"/>
<rect x="694" y="120.5" width="1" height="18.2" fill="#2fbf86"/>
<rect x="693" y="121.0" width="3" height="5.0" fill="#2fbf86"/>
<rect x="698" y="116.0" width="1" height="6.0" fill="#2fbf86"/>
<rect x="697" y="119.0" width="3" height="2.0" fill="#2fbf86"/>
<rect x="701" y="94.5" width="1" height="27.5" fill="#2fbf86"/>
<rect x="700" y="96.0" width="3" height="23.0" fill="#2fbf86"/>
<rect x="704" y="94.0" width="1" height="10.5" fill="#ef4a52"/>
<rect x="703" y="96.0" width="3" height="4.5" fill="#ef4a52"/>
<path d="M4.0,324.3 L5.8,323.2 L8.3,321.7 L11.2,319.9 L14.4,317.9 L17.4,316.0 L20.2,314.2 L22.7,312.5 L25.0,310.7 L27.4,309.0 L29.6,307.3 L31.9,305.7 L34.2,304.2 L36.5,302.9 L38.8,301.6 L41.0,300.5 L43.3,299.4 L45.5,298.4 L47.8,297.4 L50.2,296.4 L52.6,295.4 L55.1,294.4 L57.4,293.5 L59.6,292.7 L61.5,292.0 L63.0,291.4 L64.0,291.0 L64.9,290.7 L65.8,290.4 L66.8,290.2 L68.3,290.0 L70.2,289.9 L72.4,289.9 L74.7,290.0 L77.2,290.1 L79.6,290.1 L82.0,290.0 L84.1,289.8 L86.1,289.4 L88.1,289.0 L90.3,288.6 L92.7,288.1 L95.6,287.8 L99.2,287.5 L103.3,287.3 L107.8,287.1 L112.2,287.0 L116.4,286.7 L120.0,286.4 L122.9,286.0 L125.2,285.5 L127.3,285.0 L129.3,284.5 L131.5,284.0 L134.0,283.4 L137.0,282.8 L140.3,282.2 L143.8,281.5 L147.2,280.8 L150.5,280.2 L153.3,279.6 L155.5,279.0 L157.3,278.5 L158.8,277.9 L160.4,277.4 L162.3,277.0 L164.8,276.7 L168.1,276.5 L172.0,276.5 L176.3,276.6 L180.5,276.7 L184.4,276.7 L187.7,276.7 L190.3,276.6 L192.4,276.6 L194.2,276.6 L195.8,276.4 L197.4,276.2 L199.2,275.8 L201.1,275.2 L203.0,274.5 L204.8,273.6 L206.7,272.7 L208.7,271.8 L210.7,271.0 L212.8,270.3 L215.1,269.8 L217.4,269.2 L219.7,268.6 L221.9,268.0 L224.0,267.2 L225.9,266.3 L227.7,265.4 L229.4,264.4 L231.1,263.2 L232.9,262.0 L235.0,260.5 L237.3,258.9 L239.6,257.1 L242.2,255.1 L244.8,253.0 L247.6,250.8 L250.5,248.3 L253.6,245.5 L257.0,242.4 L260.4,239.1 L264.0,235.8 L267.5,232.7 L271.0,229.9 L274.4,227.4 L277.8,225.0 L281.2,222.9 L284.6,220.9 L288.0,219.1 L291.4,217.6 L294.8,216.4 L298.2,215.6 L301.6,214.9 L305.1,214.4 L308.5,214.0 L311.9,213.5 L315.4,213.0 L318.8,212.6 L322.3,212.2 L325.8,211.9 L329.2,211.6 L332.4,211.4 L335.5,211.4 L338.6,211.5 L341.5,211.7 L344.4,211.8 L347.2,211.8 L350.0,211.4 L352.7,210.6 L355.4,209.6 L358.0,208.3 L360.5,207.0 L363.0,205.7 L365.5,204.7 L367.9,203.8 L370.2,203.0 L372.5,202.3 L374.8,201.6 L377.2,201.1 L379.8,200.6 L382.7,200.2 L385.9,200.0 L389.1,199.8 L392.4,199.7 L395.4,199.6 L398.2,199.6 L400.6,199.7 L402.6,199.8 L404.5,200.0 L406.3,200.2 L408.3,200.4 L410.5,200.6 L413.0,200.8 L415.7,201.1 L418.6,201.4 L421.4,201.6 L424.2,201.7 L426.9,201.6 L429.3,201.4 L431.5,201.0 L433.6,200.5 L435.8,199.9 L438.3,199.2 L441.2,198.5 L444.6,197.7 L448.5,196.9 L452.6,196.0 L456.8,195.0 L461.0,193.8 L465.0,192.4 L468.9,190.7 L472.9,188.7 L476.8,186.6 L480.6,184.3 L484.2,182.1 L487.5,180.0 L490.4,178.0 L492.9,175.9 L495.3,173.9 L497.5,172.0 L499.8,170.0 L502.3,168.2 L505.0,166.4 L507.7,164.6 L510.5,162.9 L513.3,161.2 L516.0,159.7 L518.7,158.4 L521.3,157.2 L523.8,156.3 L526.4,155.4 L528.8,154.6 L531.2,154.0 L533.4,153.4 L535.5,153.0 L537.4,152.9 L539.1,152.9 L540.9,152.8 L542.8,152.5 L544.9,151.8 L547.1,150.6 L549.5,149.1 L551.9,147.4 L554.5,145.5 L557.0,143.7 L559.6,142.0 L562.4,140.4 L565.4,138.7 L568.4,137.1 L571.3,135.5 L573.9,134.1 L576.0,133.0 L577.4,132.2 L578.3,131.8 L578.8,131.5 L579.3,131.3 L580.0,131.0 L581.0,130.4 L582.4,129.5 L584.1,128.5 L585.9,127.4 L587.8,126.2 L589.8,125.0 L591.9,123.9 L594.1,122.8 L596.4,121.7 L598.8,120.5 L601.2,119.4 L603.7,118.3 L606.0,117.3 L608.3,116.3 L610.6,115.3 L612.8,114.3 L615.0,113.4 L617.1,112.6 L619.2,111.8 L621.1,111.2 L622.9,110.7 L624.7,110.2 L626.4,109.8 L628.1,109.4 L630.0,108.8 L632.0,108.1 L634.0,107.3 L636.1,106.5 L638.1,105.6 L640.2,104.9 L642.3,104.2 L644.3,103.7 L646.4,103.2 L648.4,102.8 L650.5,102.4 L652.5,102.1 L654.6,101.7 L656.6,101.4 L658.7,101.1 L660.8,100.8 L662.8,100.5 L664.9,100.2 L666.9,99.9 L668.9,99.6 L671.0,99.3 L673.0,99.0 L675.1,98.6 L677.1,98.3 L679.2,98.0 L681.2,97.7 L683.3,97.4 L685.3,97.1 L687.3,96.8 L689.4,96.5 L691.5,96.2 L693.8,95.8 L696.4,95.3 L699.0,94.8 L701.5,94.4 L703.5,94.0 L705.0,93.7" fill="none" stroke="#a81414" stroke-width="1.3" stroke-linejoin="round" />
<path d="M4.0,296.7 L5.1,296.0 L6.6,295.1 L8.3,294.0 L10.2,292.8 L12.1,291.6 L13.7,290.5 L15.1,289.4 L16.3,288.4 L17.6,287.3 L18.8,286.1 L20.2,285.0 L21.9,283.7 L23.9,282.3 L26.1,280.7 L28.4,279.1 L30.9,277.5 L33.2,276.0 L35.5,274.8 L37.7,273.8 L39.8,273.0 L41.9,272.4 L43.9,271.8 L45.9,271.2 L47.8,270.7 L49.6,270.2 L51.4,269.6 L53.0,269.2 L54.6,268.8 L56.1,268.4 L57.4,268.0 L58.5,267.6 L59.4,267.3 L60.2,267.0 L60.9,266.7 L61.8,266.6 L62.8,266.6 L64.0,266.7 L65.2,266.9 L66.6,267.3 L68.0,267.8 L69.4,268.5 L71.0,269.4 L72.7,270.7 L74.5,272.3 L76.3,274.1 L78.2,276.0 L80.1,277.9 L82.0,279.6 L83.8,281.2 L85.6,282.8 L87.5,284.3 L89.3,285.8 L91.1,287.2 L92.9,288.5 L94.7,289.7 L96.6,290.8 L98.4,291.9 L100.3,292.8 L102.1,293.7 L103.8,294.6 L105.5,295.4 L107.2,296.2 L108.9,296.9 L110.5,297.6 L112.0,298.2 L113.4,298.7 L114.7,299.2 L115.8,299.7 L116.8,300.1 L117.8,300.4 L118.8,300.6 L120.0,300.8 L121.3,300.9 L122.6,301.0 L123.9,301.0 L125.3,300.9 L126.8,300.6 L128.4,300.0 L130.1,299.1 L131.9,298.0 L133.8,296.7 L135.8,295.3 L137.8,293.7 L139.9,292.0 L142.0,290.2 L144.2,288.2 L146.4,286.1 L148.6,284.0 L150.9,281.8 L153.3,279.6 L155.8,277.3 L158.3,275.0 L161.0,272.5 L163.6,270.2 L166.1,268.1 L168.6,266.2 L170.9,264.7 L173.2,263.4 L175.4,262.4 L177.6,261.4 L179.8,260.5 L182.0,259.5 L184.2,258.5 L186.4,257.6 L188.6,256.7 L190.8,255.8 L193.1,254.9 L195.4,253.8 L197.9,252.6 L200.5,251.3 L203.2,250.0 L205.8,248.6 L208.3,247.3 L210.7,246.0 L212.8,244.9 L214.8,243.8 L216.6,242.8 L218.4,241.7 L220.3,240.6 L222.2,239.4 L224.3,238.1 L226.4,236.8 L228.6,235.4 L230.8,233.9 L232.9,232.4 L235.0,230.8 L236.9,229.2 L238.6,227.5 L240.4,225.8 L242.1,224.0 L244.1,221.9 L246.4,219.6 L249.1,216.9 L252.0,213.8 L255.2,210.5 L258.4,207.1 L261.7,204.0 L264.8,201.2 L267.9,198.7 L271.1,196.3 L274.2,194.1 L277.4,192.1 L280.4,190.3 L283.2,188.9 L285.8,187.8 L288.3,187.0 L290.7,186.4 L293.0,186.0 L295.3,185.9 L297.6,185.8 L300.1,186.0 L302.6,186.4 L305.1,187.0 L307.6,187.7 L309.9,188.4 L311.9,188.9 L313.6,189.2 L315.0,189.3 L316.3,189.4 L317.4,189.6 L318.7,190.1 L320.1,191.0 L321.7,192.4 L323.4,194.3 L325.2,196.5 L327.0,198.8 L328.7,201.0 L330.3,203.2 L331.7,205.3 L333.1,207.5 L334.3,209.7 L335.6,211.8 L337.0,213.7 L338.5,215.5 L340.3,217.1 L342.4,218.5 L344.6,219.8 L346.7,220.9 L348.5,221.9 L350.0,222.7 L350.9,223.3 L351.4,223.7 L351.7,223.9 L351.9,224.0 L352.4,224.0 L353.2,224.0 L354.5,224.0 L356.1,224.0 L357.9,224.0 L359.7,223.8 L361.6,223.5 L363.4,223.0 L365.1,222.3 L366.8,221.3 L368.4,220.3 L370.1,219.1 L371.9,218.0 L373.7,217.0 L375.6,216.2 L377.7,215.6 L379.7,215.0 L381.8,214.3 L383.9,213.2 L386.0,211.8 L388.0,209.7 L390.1,207.0 L392.1,204.0 L394.1,201.1 L396.2,198.5 L398.2,196.5 L400.3,195.3 L402.4,194.6 L404.5,194.2 L406.5,194.0 L408.6,193.8 L410.5,193.4 L412.3,192.8 L414.1,192.3 L415.8,191.7 L417.4,191.1 L419.1,190.6 L420.8,190.3 L422.5,190.2 L424.2,190.3 L425.9,190.4 L427.6,190.6 L429.3,190.6 L431.0,190.3 L432.7,189.8 L434.3,189.1 L436.0,188.3 L437.6,187.4 L439.4,186.3 L441.2,185.2 L443.1,183.9 L445.2,182.3 L447.3,180.7 L449.4,179.0 L451.5,177.4 L453.5,176.0 L455.5,174.9 L457.5,174.0 L459.4,173.3 L461.4,172.4 L463.2,171.4 L465.0,170.0 L466.6,168.2 L468.2,166.0 L469.6,163.7 L471.1,161.3 L472.6,158.9 L474.4,156.7 L476.4,154.6 L478.6,152.5 L480.8,150.4 L483.1,148.4 L485.4,146.6 L487.5,145.0 L489.5,143.6 L491.5,142.4 L493.4,141.4 L495.2,140.4 L497.1,139.6 L499.0,138.7 L500.9,137.9 L502.9,137.1 L504.9,136.5 L506.8,135.8 L508.7,135.2 L510.5,134.6 L512.2,134.0 L513.9,133.4 L515.5,132.8 L517.1,132.3 L518.7,131.8 L520.3,131.3 L521.9,130.8 L523.4,130.3 L524.9,129.9 L526.5,129.5 L528.2,129.2 L530.0,128.9 L532.0,128.8 L534.3,128.9 L536.6,129.1 L538.9,129.2 L541.2,129.2 L543.2,128.9 L545.0,128.4 L546.7,127.6 L548.3,126.7 L549.8,125.8 L551.4,124.8 L553.0,124.0 L554.7,123.2 L556.3,122.5 L558.0,121.7 L559.7,121.0 L561.3,120.3 L563.0,119.8 L564.7,119.4 L566.3,119.2 L568.0,119.0 L569.7,118.8 L571.3,118.6 L572.8,118.2 L574.2,117.7 L575.6,117.1 L576.8,116.4 L578.1,115.7 L579.5,114.9 L581.0,114.0 L582.7,113.0 L584.6,112.0 L586.5,110.8 L588.4,109.7 L590.2,108.6 L591.9,107.5 L593.4,106.5 L594.7,105.6 L596.0,104.8 L597.2,103.9 L598.3,103.0 L599.5,102.0 L600.6,100.9 L601.7,99.8 L602.8,98.6 L603.9,97.4 L604.9,96.3 L606.0,95.4 L607.1,94.6 L608.2,94.0 L609.3,93.5 L610.4,93.0 L611.5,92.6 L612.6,92.2 L613.7,91.9 L614.6,91.7 L615.6,91.6 L616.7,91.4 L617.9,91.3 L619.2,91.0 L620.8,90.7 L622.6,90.3 L624.6,89.9 L626.5,89.5 L628.4,89.0 L630.0,88.5 L631.4,87.9 L632.6,87.2 L633.7,86.4 L634.7,85.6 L635.8,85.0 L637.0,84.5 L638.2,84.2 L639.5,84.0 L640.7,84.0 L642.0,84.0 L643.4,84.0 L644.8,83.9 L646.3,83.8 L648.0,83.7 L649.7,83.6 L651.4,83.5 L653.1,83.4 L654.6,83.3 L656.0,83.2 L657.2,83.0 L658.5,82.8 L659.6,82.7 L660.8,82.7 L662.0,82.7 L663.2,82.9 L664.4,83.1 L665.6,83.4 L666.8,83.8 L668.0,84.1 L669.3,84.5 L670.7,84.9 L672.1,85.2 L673.6,85.6 L675.2,86.1 L676.6,86.5 L678.0,87.0 L679.3,87.5 L680.5,88.0 L681.6,88.6 L682.8,89.2 L684.0,89.8 L685.3,90.6 L686.7,91.5 L688.2,92.6 L689.7,93.7 L691.2,94.8 L692.7,95.9 L694.0,96.8 L695.2,97.6 L696.2,98.4 L697.2,99.0 L698.2,99.6 L699.1,100.1 L700.0,100.5 L700.9,100.7 L701.9,100.8 L702.9,100.7 L703.7,100.6 L704.5,100.5 L705.0,100.5" fill="none" stroke="#d8b428" stroke-width="1.3" stroke-linejoin="round" />
</g>
<line x1="420" y1="467" x2="705" y2="424.5" stroke="#d8c8f0" stroke-width="2.6"/>
<line x1="295" y1="69.5" x2="1414" y2="69.5" stroke="#f0d628" stroke-width="1.3"/>
<text x="1411.8" y="63.5" font-size="10" fill="#f4dc44" font-weight="normal" text-anchor="end" letter-spacing="0.6">0.0 (6106.6)</text>
<line x1="295" y1="123.5" x2="1414" y2="123.5" stroke="#f0d628" stroke-width="1.3"/>
<text x="1411.8" y="117.5" font-size="10" fill="#f4dc44" font-weight="normal" text-anchor="end" letter-spacing="0.6">23.6 (5876.2)</text>
<line x1="295" y1="156.5" x2="1414" y2="156.5" stroke="#f0d628" stroke-width="1.3"/>
<text x="1411.8" y="150.5" font-size="10" fill="#f4dc44" font-weight="normal" text-anchor="end" letter-spacing="0.6">38.2 (5733.6)</text>
<line x1="295" y1="183.5" x2="1414" y2="183.5" stroke="#f0d628" stroke-width="1.3"/>
<text x="1411.8" y="177.5" font-size="10" fill="#f4dc44" font-weight="normal" text-anchor="end" letter-spacing="0.6">50.0 (5618.3)</text>
<line x1="295" y1="210.5" x2="1414" y2="210.5" stroke="#f0d628" stroke-width="1.3"/>
<text x="1411.8" y="204.5" font-size="10" fill="#f4dc44" font-weight="normal" text-anchor="end" letter-spacing="0.6">61.8 (5503.1)</text>
<line x1="295" y1="249.5" x2="1414" y2="249.5" stroke="#f0d628" stroke-width="1.3"/>
<text x="1411.8" y="243.5" font-size="10" fill="#f4dc44" font-weight="normal" text-anchor="end" letter-spacing="0.6">78.6 (5339.0)</text>
<line x1="295" y1="298.5" x2="1414" y2="298.5" stroke="#f0d628" stroke-width="1.3"/>
<text x="1411.8" y="292.5" font-size="10" fill="#f4dc44" font-weight="normal" text-anchor="end" letter-spacing="0.6">100.0 (5130.0)</text>
<line x1="295" y1="439.5" x2="1414" y2="439.5" stroke="#f0d628" stroke-width="1.3"/>
<text x="1411.8" y="433.5" font-size="10" fill="#f4dc44" font-weight="normal" text-anchor="end" letter-spacing="0.6">161.8 (4526.5)</text>
<line x1="294.6" y1="298.5" x2="605" y2="69.5" stroke="#f0d628" stroke-width="1.1"/>
<line x1="2" y1="131.5" x2="1414" y2="131.5" stroke="#10bd80" stroke-width="3"/>
<rect x="1372" y="125" width="42" height="15" fill="#10b57c"/>
<text x="1410" y="136.5" font-size="11" fill="#e8f5ee" font-weight="normal" text-anchor="end" >5840.3</text>
<line x1="615" y1="18" x2="615" y2="455" stroke="#de3b3b" stroke-width="2.4"/>
<line x1="1041.7" y1="18" x2="1041.7" y2="455" stroke="#de3b3b" stroke-width="2.6"/>
<line x1="662" y1="70" x2="732" y2="100.3" stroke="#f2f2f2" stroke-width="2"/>
<line x1="646" y1="131" x2="728.2" y2="144.7" stroke="#f2f2f2" stroke-width="2"/>
<line x1="614" y1="73" x2="1042" y2="433" stroke="#f2f2f2" stroke-width="2.2" stroke-dasharray="8 8" stroke-linecap="round"/>
<line x1="1042" y1="432.5" x2="1414" y2="390.3" stroke="#f2f2f2" stroke-width="2.2" stroke-dasharray="8 8" stroke-linecap="round"/>
<line x1="1042" y1="433" x2="1414" y2="376" stroke="#f08a18" stroke-width="2.2" stroke-dasharray="8 8" stroke-linecap="round"/>
<line x1="617" y1="70.5" x2="1414" y2="250" stroke="#6fd0b0" stroke-width="2.2" stroke-dasharray="8 8" stroke-linecap="round"/>
<rect x="840.5" y="406.5" width="573.5" height="50" fill="rgba(222,56,56,0.5)" stroke="#dc3a3a" stroke-width="1"/>
<text x="1413" y="453" font-size="15" fill="#e06a3a" font-weight="normal" text-anchor="end" ><tspan fill="#e8702a">04</tspan><tspan fill="#d88a78">h </tspan><tspan fill="#e87a3a">11</tspan><tspan fill="#d88a78">m</tspan></text>
<text x="260" y="140" font-size="21" fill="#ffffff" font-weight="normal" text-anchor="start" >3</text>
<text x="324" y="327" font-size="21" fill="#ffffff" font-weight="normal" text-anchor="start" >4</text>
<text x="597.5" y="57" font-size="20" fill="#ffffff" font-weight="normal" text-anchor="start" >V</text>
<text x="612" y="57" font-size="20" fill="#ffffff" font-weight="normal" text-anchor="start" >.</text>
<text x="617" y="57.5" font-size="20" fill="#f0d22a" font-weight="normal" text-anchor="start" >(</text>
<text x="624" y="57.5" font-size="20" fill="#f0d22a" font-weight="normal" text-anchor="start" >3</text>
<text x="636.5" y="57.5" font-size="20" fill="#f0d22a" font-weight="normal" text-anchor="start" >)</text>
<text x="637.5" y="58.5" font-size="20" fill="#ffffff" font-weight="normal" text-anchor="start" >5</text>
<rect x="558" y="454" width="111" height="13.5" fill="#e03838"/>
<text x="613.5" y="464.5" font-size="11" fill="#fff0f0" font-weight="normal" text-anchor="middle" letter-spacing="0.25">05.12.2024 00:00</text>
<rect x="985" y="454" width="111" height="13.5" fill="#e03838"/>
<text x="1040.5" y="464.5" font-size="11" fill="#fff0f0" font-weight="normal" text-anchor="middle" letter-spacing="0.25">30.04.2025 01:00</text>
<text x="1044" y="457.5" font-size="20" fill="#f0d22a" font-weight="normal" text-anchor="start" >(4)</text>
<g clip-path="url(#cmacd)">
<rect x="3.2" y="499.0" width="6.5" height="1.0" fill="#17ae72"/>
<rect x="8.9" y="494.8" width="3.2" height="5.2" fill="#17ae72"/>
<rect x="13.0" y="493.2" width="8.0" height="6.8" fill="#17ae72"/>
<rect x="21.9" y="495.6" width="3.2" height="4.4" fill="#17ae72"/>
<rect x="25.9" y="498.1" width="6.5" height="1.9" fill="#17ae72"/>
<rect x="34.8" y="500.0" width="3.2" height="1.3" fill="#e8403e"/>
<rect x="38.9" y="500.0" width="4.1" height="5.0" fill="#e8403e"/>
<rect x="43.0" y="500.0" width="4.0" height="9.0" fill="#e8403e"/>
<rect x="47.0" y="500.0" width="7.3" height="11.8" fill="#e8403e"/>
<rect x="55.0" y="500.0" width="5.7" height="10.2" fill="#e8403e"/>
<rect x="60.7" y="500.0" width="6.5" height="12.8" fill="#e8403e"/>
<rect x="68.0" y="500.0" width="6.0" height="18.3" fill="#e8403e"/>
<rect x="74.0" y="500.0" width="7.0" height="21.5" fill="#e8403e"/>
<rect x="81.0" y="500.0" width="3.2" height="25.6" fill="#e8403e"/>
<rect x="84.2" y="500.0" width="3.3" height="22.3" fill="#e8403e"/>
<rect x="87.5" y="500.0" width="3.2" height="14.3" fill="#e8403e"/>
<rect x="90.7" y="500.0" width="2.8" height="8.6" fill="#e8403e"/>
<rect x="93.5" y="500.0" width="2.9" height="3.7" fill="#e8403e"/>
<rect x="97.2" y="500.0" width="2.4" height="0.5" fill="#e8403e"/>
<rect x="100.4" y="496.4" width="3.2" height="3.6" fill="#17ae72"/>
<rect x="106.0" y="498.0" width="4.1" height="2.0" fill="#17ae72"/>
<rect x="110.1" y="497.2" width="3.3" height="2.8" fill="#17ae72"/>
<rect x="113.4" y="491.6" width="6.4" height="8.4" fill="#17ae72"/>
<rect x="119.8" y="486.7" width="6.5" height="13.3" fill="#17ae72"/>
<rect x="126.3" y="483.5" width="11.4" height="16.5" fill="#17ae72"/>
<rect x="138.5" y="482.7" width="7.2" height="17.3" fill="#17ae72"/>
<rect x="145.7" y="485.9" width="6.5" height="14.1" fill="#17ae72"/>
<rect x="152.2" y="488.3" width="5.7" height="11.7" fill="#17ae72"/>
<rect x="157.9" y="493.2" width="4.1" height="6.8" fill="#17ae72"/>
<rect x="162.0" y="498.1" width="4.8" height="1.9" fill="#17ae72"/>
<rect x="171.0" y="500.0" width="4.0" height="3.7" fill="#e8403e"/>
<rect x="175.0" y="500.0" width="4.8" height="7.8" fill="#e8403e"/>
<rect x="180.6" y="500.0" width="4.9" height="7.0" fill="#e8403e"/>
<rect x="185.5" y="500.0" width="3.9" height="2.9" fill="#e8403e"/>
<rect x="189.4" y="500.0" width="4.1" height="0.5" fill="#e8403e"/>
<rect x="194.3" y="498.9" width="4.9" height="1.1" fill="#17ae72"/>
<rect x="199.2" y="495.6" width="4.8" height="4.4" fill="#17ae72"/>
<rect x="204.0" y="492.4" width="6.5" height="7.6" fill="#17ae72"/>
<rect x="210.5" y="490.8" width="6.5" height="9.2" fill="#17ae72"/>
<rect x="217.0" y="490.0" width="5.7" height="10.0" fill="#17ae72"/>
<rect x="222.7" y="490.0" width="5.6" height="10.0" fill="#17ae72"/>
<rect x="228.3" y="493.5" width="6.6" height="6.5" fill="#17ae72"/>
<rect x="235.7" y="496.4" width="6.4" height="3.6" fill="#17ae72"/>
<rect x="244.6" y="500.0" width="6.4" height="1.3" fill="#e8403e"/>
<rect x="251.9" y="500.0" width="5.6" height="0.5" fill="#e8403e"/>
<rect x="258.3" y="498.5" width="5.7" height="1.5" fill="#17ae72"/>
<rect x="264.8" y="496.9" width="15.4" height="3.1" fill="#17ae72"/>
<rect x="281.0" y="497.2" width="3.3" height="2.8" fill="#17ae72"/>
<rect x="285.1" y="500.0" width="4.0" height="2.0" fill="#e8403e"/>
<rect x="289.9" y="500.0" width="3.3" height="11.8" fill="#e8403e"/>
<rect x="294.0" y="500.0" width="5.6" height="13.8" fill="#e8403e"/>
<rect x="299.6" y="500.0" width="3.4" height="18.0" fill="#e8403e"/>
<rect x="303.0" y="500.0" width="3.1" height="23.0" fill="#e8403e"/>
<rect x="306.9" y="500.0" width="4.1" height="24.8" fill="#e8403e"/>
<rect x="311.0" y="500.0" width="4.8" height="22.3" fill="#e8403e"/>
<rect x="315.8" y="500.0" width="6.5" height="15.9" fill="#e8403e"/>
<rect x="323.1" y="500.0" width="2.9" height="15.0" fill="#e8403e"/>
<rect x="326.0" y="500.0" width="2.8" height="21.0" fill="#e8403e"/>
<rect x="328.8" y="500.0" width="6.5" height="30.0" fill="#e8403e"/>
<rect x="336.1" y="500.0" width="2.8" height="24.0" fill="#e8403e"/>
<rect x="338.9" y="500.0" width="2.8" height="16.0" fill="#e8403e"/>
<rect x="341.7" y="500.0" width="2.8" height="9.0" fill="#e8403e"/>
<rect x="344.5" y="500.0" width="2.9" height="2.0" fill="#e8403e"/>
<rect x="349.0" y="492.4" width="3.3" height="7.6" fill="#17ae72"/>
<rect x="352.3" y="481.0" width="3.2" height="19.0" fill="#17ae72"/>
<rect x="355.5" y="474.6" width="3.2" height="25.4" fill="#17ae72"/>
<rect x="358.7" y="468.9" width="5.7" height="31.1" fill="#17ae72"/>
<rect x="364.4" y="468.1" width="4.1" height="31.9" fill="#17ae72"/>
<rect x="368.5" y="473.0" width="4.0" height="27.0" fill="#17ae72"/>
<rect x="372.5" y="478.6" width="4.1" height="21.4" fill="#17ae72"/>
<rect x="377.4" y="482.7" width="4.0" height="17.3" fill="#17ae72"/>
<rect x="381.4" y="489.1" width="4.1" height="10.9" fill="#17ae72"/>
<rect x="385.5" y="493.2" width="4.8" height="6.8" fill="#17ae72"/>
<rect x="390.3" y="494.8" width="4.1" height="5.2" fill="#17ae72"/>
<rect x="394.4" y="500.0" width="4.0" height="2.9" fill="#e8403e"/>
<rect x="398.4" y="500.0" width="4.1" height="9.0" fill="#e8403e"/>
<rect x="402.5" y="500.0" width="4.0" height="18.3" fill="#e8403e"/>
<rect x="407.3" y="500.0" width="5.7" height="15.0" fill="#e8403e"/>
<rect x="413.0" y="500.0" width="5.7" height="8.6" fill="#e8403e"/>
<rect x="418.7" y="500.0" width="4.0" height="0.5" fill="#e8403e"/>
<rect x="422.7" y="496.4" width="4.9" height="3.6" fill="#17ae72"/>
<rect x="427.6" y="491.6" width="4.8" height="8.4" fill="#17ae72"/>
<rect x="432.4" y="484.3" width="6.5" height="15.7" fill="#17ae72"/>
<rect x="438.9" y="480.2" width="4.9" height="19.8" fill="#17ae72"/>
<rect x="443.8" y="481.0" width="4.8" height="19.0" fill="#17ae72"/>
<rect x="448.6" y="483.5" width="4.9" height="16.5" fill="#17ae72"/>
<rect x="453.5" y="489.1" width="4.8" height="10.9" fill="#17ae72"/>
<rect x="458.3" y="494.8" width="3.3" height="5.2" fill="#17ae72"/>
<rect x="461.6" y="498.9" width="3.2" height="1.1" fill="#17ae72"/>
<rect x="464.8" y="500.0" width="6.7" height="2.4" fill="#e8403e"/>
<rect x="471.5" y="500.0" width="5.7" height="5.6" fill="#e8403e"/>
<rect x="477.2" y="500.0" width="2.9" height="3.3" fill="#e8403e"/>
<rect x="480.1" y="500.0" width="3.8" height="1.4" fill="#e8403e"/>
<rect x="486.8" y="495.7" width="3.8" height="4.3" fill="#17ae72"/>
<rect x="490.6" y="497.2" width="12.4" height="2.8" fill="#17ae72"/>
<rect x="504.0" y="499.1" width="2.9" height="0.9" fill="#17ae72"/>
<rect x="509.7" y="500.0" width="3.9" height="4.3" fill="#e8403e"/>
<rect x="513.6" y="500.0" width="5.7" height="8.1" fill="#e8403e"/>
<rect x="520.3" y="500.0" width="11.4" height="8.7" fill="#e8403e"/>
<rect x="532.7" y="500.0" width="3.8" height="13.8" fill="#e8403e"/>
<rect x="536.5" y="500.0" width="5.8" height="16.7" fill="#e8403e"/>
<rect x="542.3" y="500.0" width="2.8" height="13.8" fill="#e8403e"/>
<rect x="546.1" y="500.0" width="2.9" height="4.3" fill="#e8403e"/>
<rect x="549.0" y="495.7" width="2.8" height="4.3" fill="#17ae72"/>
<rect x="551.8" y="489.0" width="3.9" height="11.0" fill="#17ae72"/>
<rect x="555.7" y="482.3" width="5.7" height="17.7" fill="#17ae72"/>
<rect x="561.4" y="483.2" width="3.8" height="16.8" fill="#17ae72"/>
<rect x="565.2" y="488.0" width="5.8" height="12.0" fill="#17ae72"/>
<rect x="574.8" y="500.0" width="3.8" height="4.3" fill="#e8403e"/>
<rect x="578.6" y="500.0" width="7.7" height="6.2" fill="#e8403e"/>
<rect x="586.3" y="500.0" width="4.7" height="2.4" fill="#e8403e"/>
<rect x="592.0" y="498.5" width="5.7" height="1.5" fill="#17ae72"/>
<rect x="597.7" y="496.6" width="5.8" height="3.4" fill="#17ae72"/>
<rect x="603.5" y="495.1" width="9.5" height="4.9" fill="#17ae72"/>
<rect x="613.0" y="495.7" width="3.9" height="4.3" fill="#17ae72"/>
<rect x="616.9" y="496.6" width="2.8" height="3.4" fill="#17ae72"/>
<rect x="622.6" y="500.0" width="3.8" height="0.4" fill="#e8403e"/>
<rect x="626.4" y="500.0" width="5.8" height="3.3" fill="#e8403e"/>
<rect x="632.2" y="500.0" width="9.5" height="6.2" fill="#e8403e"/>
<rect x="641.7" y="500.0" width="3.9" height="15.7" fill="#e8403e"/>
<rect x="645.6" y="500.0" width="5.7" height="18.6" fill="#e8403e"/>
<rect x="651.3" y="500.0" width="5.8" height="11.9" fill="#e8403e"/>
<rect x="657.1" y="500.0" width="1.9" height="5.2" fill="#e8403e"/>
<rect x="659.0" y="500.0" width="5.8" height="2.4" fill="#e8403e"/>
<rect x="664.8" y="500.0" width="5.6" height="5.2" fill="#e8403e"/>
<rect x="670.4" y="500.0" width="3.9" height="10.0" fill="#e8403e"/>
<rect x="674.3" y="500.0" width="11.5" height="7.1" fill="#e8403e"/>
<rect x="685.8" y="500.0" width="7.6" height="9.0" fill="#e8403e"/>
<rect x="693.4" y="500.0" width="5.7" height="10.6" fill="#e8403e"/>
<rect x="699.1" y="500.0" width="7.7" height="4.3" fill="#e8403e"/>
<path d="M44.5,468.0 L56.7,477.8 L63.0,484.3 L71.3,500.5 L84.2,524.8 L100.4,516.7 L110.0,520.0 L123.0,495.6 L137.7,479.4 L150.6,468.0 L160.0,462.0 L168.4,469.0 L175.0,477.8 L184.6,481.0 L191.0,476.2 L200.8,473.0 L209.0,466.5 L230.0,455.0 L290.0,458.0 L294.8,468.0 L299.6,474.6 L304.5,489.1 L312.6,499.7 L320.7,508.6 L328.8,540.0 L346.6,540.0 L358.0,500.5 L366.0,479.4 L375.7,473.0 L385.5,471.3 L392.0,469.7 L398.4,482.7 L404.9,494.0 L409.8,499.7 L414.6,498.9 L421.0,490.8 L427.6,485.1 L432.4,481.0 L438.1,468.0 L470.0,455.0 L510.0,458.0 L515.5,468.0 L527.0,472.7 L532.7,480.4 L540.4,494.7 L544.2,493.7 L550.0,478.4 L555.7,468.0 L562.0,462.0 L569.0,468.0 L576.7,472.7 L584.4,475.0 L594.0,470.8 L601.6,468.0 L612.0,460.0 L626.4,468.0 L639.8,476.5 L646.5,492.8 L653.2,493.7 L660.9,487.0 L670.4,499.5 L680.0,504.3 L687.7,508.0 L697.2,518.6 L704.9,512.9" fill="none" stroke="#15a068" stroke-width="1.1" stroke-linejoin="round" />
<path d="M57.5,468.0 L69.6,481.0 L82.6,498.9 L90.7,513.4 L105.3,522.3 L113.4,520.0 L129.6,508.6 L142.5,492.4 L155.5,476.2 L168.4,469.0 L186.2,474.6 L199.2,477.8 L210.5,474.6 L220.2,468.0 L260.0,455.0 L300.0,458.0 L306.0,468.0 L314.2,479.4 L320.7,489.1 L327.2,499.7 L336.9,520.0 L346.6,540.0 L356.3,540.0 L367.7,513.4 L375.7,490.8 L385.5,478.6 L396.8,472.1 L404.9,475.4 L416.2,488.3 L426.0,494.0 L434.0,490.0 L443.7,477.8 L451.9,468.0 L490.0,455.0 L525.0,460.0 L530.8,468.0 L540.4,478.4 L548.0,483.8 L559.5,481.3 L571.0,470.8 L578.6,468.9 L586.3,469.8 L597.7,472.7 L609.2,470.8 L616.9,468.0 L628.0,464.0 L637.9,468.0 L647.5,475.6 L655.1,482.3 L662.8,487.0 L672.4,493.7 L683.8,497.6 L689.6,503.3 L704.9,511.0" fill="none" stroke="#d83a2e" stroke-width="1.1" stroke-linejoin="round" />
</g>
<g clip-path="url(#crsi)">
<path d="M3.7,554.6 L9.8,550.9 L14.8,549.7 L18.4,552.6 L24.6,553.4 L29.5,552.6 L33.2,553.4 L39.3,558.3 L44.3,559.5 L46.7,566.9 L49.2,562.0 L56.6,560.7 L60.2,566.9 L62.7,564.4 L67.6,571.8 L73.8,574.3 L82.4,577.9 L88.5,569.3 L92.2,570.6 L94.7,566.9 L100.8,566.4 L105.7,571.8 L110.6,566.9 L118.0,560.7 L127.9,559.0 L135.2,557.5 L140.2,554.1 L147.5,554.6 L153.7,554.1 L159.8,560.7 L164.7,557.0 L168.4,558.3 L173.3,565.7 L178.3,562.0 L184.4,561.5 L188.1,556.6 L194.2,557.5 L199.2,556.6 L204.1,552.1 L210.2,552.6 L215.1,549.2 L223.8,547.2 L229.9,550.2 L236.0,549.7 L243.4,553.6 L248.3,550.9 L258.2,548.4 L268.0,545.2 L271.7,551.6 L281.5,547.7 L286.5,560.7 L291.4,566.9 L296.3,562.5 L302.4,573.0 L308.6,568.1 L313.5,570.6 L317.2,564.4 L327.0,577.2 L333.2,577.9 L336.9,570.6 L343.0,568.8 L349.2,562.0 L350.0,563.2 L354.9,560.7 L361.1,559.0 L367.2,558.3 L369.7,560.7 L372.1,559.5 L379.5,559.5 L383.2,562.5 L389.3,559.0 L391.8,559.0 L395.5,566.9 L400.4,568.1 L404.1,572.3 L409.0,568.8 L413.9,565.7 L421.3,560.7 L428.7,560.7 L433.6,555.1 L443.4,554.1 L453.3,554.6 L459.4,559.0 L465.6,559.5 L468.0,558.3 L471.7,561.5 L477.9,557.5 L482.8,557.0 L487.7,553.4 L492.6,557.5 L500.0,556.1 L507.4,558.3 L511.1,562.0 L517.2,561.5 L522.1,560.0 L527.0,559.5 L534.4,570.6 L540.6,569.8 L546.7,557.0 L554.1,553.9 L559.0,554.6 L563.9,555.1 L570.1,564.4 L578.7,562.7 L593.4,555.8 L595.9,558.3 L610.6,554.6 L618.0,554.1 L620.5,559.0 L625.4,559.5 L627.8,557.0 L631.5,560.7 L638.9,561.5 L642.6,575.5 L650.0,565.7 L656.1,560.7 L659.8,560.7 L667.2,570.6 L672.1,569.8 L679.5,564.4 L681.9,568.1 L689.3,568.8 L693.0,572.3 L697.9,571.3 L701.6,565.7 L704.1,566.4" fill="none" stroke="#1a86e0" stroke-width="1.3" stroke-linejoin="round" />
</g>
<g clip-path="url(#ccci)">
<path d="M3.7,622.2 L9.8,617.3 L13.5,616.6 L18.4,622.2 L24.6,625.4 L32.0,624.7 L36.9,627.1 L43.0,632.0 L46.7,639.4 L51.6,638.2 L56.6,640.6 L61.5,643.1 L67.6,646.8 L73.8,644.3 L79.9,641.9 L86.1,635.7 L92.2,633.3 L98.4,630.8 L103.3,634.5 L108.2,633.3 L116.8,616.1 L124.2,621.0 L132.8,622.2 L137.7,621.0 L147.5,622.9 L154.9,624.7 L159.8,628.4 L167.2,627.9 L174.6,640.6 L184.4,634.5 L188.1,622.2 L194.2,623.4 L201.6,622.9 L204.1,618.0 L211.5,621.5 L216.4,620.5 L223.8,619.0 L229.9,624.7 L238.5,624.7 L245.9,627.9 L253.3,618.5 L258.2,617.3 L265.6,619.7 L270.5,621.0 L276.6,622.2 L281.5,622.2 L290.1,638.2 L297.5,635.2 L302.4,645.6 L307.4,641.9 L312.3,638.2 L316.0,634.5 L322.1,639.4 L327.0,649.3 L331.9,641.9 L339.3,633.3 L346.7,627.1 L350.0,627.1 L354.9,623.4 L361.1,622.2 L367.2,622.2 L369.7,624.7 L379.5,625.4 L384.4,628.4 L390.6,624.7 L393.0,623.4 L397.9,646.8 L404.1,647.5 L413.9,635.7 L421.3,626.4 L428.7,624.7 L434.8,617.3 L442.2,622.2 L453.3,624.7 L463.1,628.4 L468.0,629.6 L470.5,627.1 L475.4,630.3 L479.1,617.3 L485.2,616.1 L487.7,614.8 L495.1,622.2 L502.4,624.7 L511.1,631.3 L519.7,630.3 L527.0,632.0 L534.4,652.9 L540.6,644.3 L550.4,614.8 L559.0,622.2 L565.1,624.7 L570.1,630.8 L578.7,630.8 L586.0,627.9 L593.4,624.7 L595.9,625.4 L600.8,622.9 L610.6,622.2 L618.0,623.4 L622.9,628.4 L625.4,626.4 L630.3,629.6 L636.5,628.4 L642.6,660.3 L647.5,644.3 L654.9,627.1 L659.8,625.9 L667.2,638.2 L672.1,638.7 L679.5,629.6 L684.4,635.7 L689.3,638.2 L694.2,643.1 L697.9,641.9 L704.1,627.1" fill="none" stroke="#1a86e0" stroke-width="1.3" stroke-linejoin="round" />
</g>
<g clip-path="url(#csrsi)">
<path d="M3.7,684.9 L9.8,666.5 L13.5,666.5 L17.2,675.1 L23.4,677.5 L27.0,681.2 L30.7,675.1 L34.4,677.5 L39.3,702.1 L47.9,702.1 L50.4,693.5 L56.6,691.8 L60.2,702.1 L73.8,703.3 L81.1,703.3 L86.1,699.7 L91.0,692.8 L94.7,692.3 L99.6,691.1 L102.0,697.2 L108.2,692.3 L118.0,684.9 L126.6,682.0 L132.8,677.5 L141.4,666.5 L147.5,667.7 L154.9,666.5 L159.8,675.1 L164.7,670.2 L169.7,672.6 L174.6,686.1 L178.3,680.0 L182.0,678.8 L186.9,670.6 L194.2,672.6 L201.6,668.2 L209.0,666.5 L222.5,666.5 L229.9,673.8 L236.0,670.2 L243.4,675.1 L248.3,669.7 L258.2,666.5 L269.2,666.5 L271.7,677.5 L281.5,670.2 L287.7,703.3 L292.6,698.4 L297.5,703.3 L302.4,703.3 L307.4,699.2 L313.5,703.3 L317.2,694.2 L322.1,703.3 L331.9,703.3 L336.9,696.0 L343.0,693.5 L349.2,688.6 L350.0,689.8 L354.9,686.1 L362.3,682.4 L367.2,681.2 L372.1,683.7 L379.5,672.6 L383.2,675.1 L391.8,667.2 L395.5,678.8 L401.6,682.4 L404.1,689.8 L409.0,683.7 L413.9,677.5 L421.3,672.1 L428.7,675.6 L433.6,667.2 L443.4,667.7 L453.3,667.2 L458.2,673.1 L465.6,672.6 L468.0,670.6 L471.7,677.5 L477.9,670.2 L484.0,667.7 L487.7,667.2 L492.6,673.8 L500.0,671.4 L507.4,675.1 L511.1,692.3 L519.7,689.8 L522.1,687.4 L524.6,695.2 L527.0,689.3 L530.7,703.3 L540.6,703.3 L546.7,673.8 L554.1,666.5 L563.9,669.7 L568.8,691.1 L578.7,684.9 L593.4,672.6 L595.9,676.3 L610.6,667.7 L618.0,667.2 L622.9,677.5 L627.8,672.6 L635.2,684.9 L638.9,681.2 L642.6,703.3 L650.0,687.4 L656.1,678.8 L659.8,679.5 L666.0,697.2 L672.1,699.7 L679.5,688.6 L684.4,697.2 L689.3,698.4 L693.0,703.3 L697.9,700.9 L701.6,691.8 L704.1,692.8" fill="none" stroke="#7078c8" stroke-width="1.1" stroke-linejoin="round" />
</g>
<rect x="5.5" y="393.0" width="10.5" height="5.5" fill="#8a8a8a"/>
<rect x="5.5" y="399.5" width="10.5" height="1.6" fill="#8a8a8a"/>
<path d="M20.5,394.0 L27,401.0 M27,394.0 L20.5,401.0" stroke="#8a8a8a" stroke-width="2.6"/>
<text x="31" y="403.5" font-size="10" fill="#e2e2e2" font-weight="normal" text-anchor="start" letter-spacing="0.15" stroke="#e2e2e2" stroke-width="0.2">SMA [200,&#160; 0] 5634.6</text>
<rect x="5.5" y="406.9" width="10.5" height="5.5" fill="#8a8a8a"/>
<rect x="5.5" y="413.4" width="10.5" height="1.6" fill="#8a8a8a"/>
<path d="M20.5,407.9 L27,414.9 M27,407.9 L20.5,414.9" stroke="#8a8a8a" stroke-width="2.6"/>
<text x="31" y="417.4" font-size="10" fill="#e2e2e2" font-weight="normal" text-anchor="start" letter-spacing="0.15" stroke="#e2e2e2" stroke-width="0.2">SMA [50,&#160; 0] 6000.2</text>
<rect x="5.5" y="420.8" width="10.5" height="5.5" fill="#8a8a8a"/>
<rect x="5.5" y="427.3" width="10.5" height="1.6" fill="#8a8a8a"/>
<path d="M20.5,421.8 L27,428.8 M27,421.8 L20.5,428.8" stroke="#8a8a8a" stroke-width="2.6"/>
<text x="31" y="431.3" font-size="10" fill="#e2e2e2" font-weight="normal" text-anchor="start" letter-spacing="0.15" stroke="#e2e2e2" stroke-width="0.2">SMA [20,&#160; 0] 5966.9</text>
<rect x="5.5" y="434.7" width="10.5" height="5.5" fill="#8a8a8a"/>
<rect x="5.5" y="441.2" width="10.5" height="1.6" fill="#8a8a8a"/>
<path d="M20.5,435.7 L27,442.7 M27,435.7 L20.5,442.7" stroke="#8a8a8a" stroke-width="2.6"/>
<text x="31" y="445.2" font-size="10" fill="#e2e2e2" font-weight="normal" text-anchor="start" letter-spacing="0.15" stroke="#e2e2e2" stroke-width="0.2">SMA [150,&#160; 0] 5762.0</text>
<rect x="5.5" y="448.6" width="10.5" height="5.5" fill="#8a8a8a"/>
<rect x="5.5" y="455.1" width="10.5" height="1.6" fill="#8a8a8a"/>
<path d="M20.5,449.6 L27,456.6 M27,449.6 L20.5,456.6" stroke="#8a8a8a" stroke-width="2.6"/>
<text x="31" y="459.1" font-size="10" fill="#e2e2e2" font-weight="normal" text-anchor="start" letter-spacing="0.15" stroke="#e2e2e2" stroke-width="0.2">SMA [1000,&#160; 0] 4587.7</text>
<rect x="5.5" y="515.0" width="10.5" height="5.5" fill="#8a8a8a"/>
<rect x="5.5" y="521.5" width="10.5" height="1.6" fill="#8a8a8a"/>
<path d="M20.5,516.0 L27,523.0 M27,516.0 L20.5,523.0" stroke="#8a8a8a" stroke-width="2.6"/>
<text x="31" y="525.5" font-size="10" fill="#e2e2e2" font-weight="normal" text-anchor="start" letter-spacing="0" stroke="#e2e2e2" stroke-width="0.2">MACD [12,&#160; 26,&#160; 9] -19.14100,&#160; -16.34474</text>
<rect x="5.5" y="580.5" width="10.5" height="5.5" fill="#8a8a8a"/>
<rect x="5.5" y="587.0" width="10.5" height="1.6" fill="#8a8a8a"/>
<path d="M20.5,581.5 L27,588.5 M27,581.5 L20.5,588.5" stroke="#8a8a8a" stroke-width="2.6"/>
<text x="31" y="591.0" font-size="10" fill="#e2e2e2" font-weight="normal" text-anchor="start" letter-spacing="0" stroke="#e2e2e2" stroke-width="0.2">RSI [14]&#160; 49.8</text>
<rect x="5.5" y="645.5" width="10.5" height="5.5" fill="#8a8a8a"/>
<rect x="5.5" y="652.0" width="10.5" height="1.6" fill="#8a8a8a"/>
<path d="M20.5,646.5 L27,653.5 M27,646.5 L20.5,653.5" stroke="#8a8a8a" stroke-width="2.6"/>
<text x="31" y="656.0" font-size="10" fill="#e2e2e2" font-weight="normal" text-anchor="start" letter-spacing="0" stroke="#e2e2e2" stroke-width="0.2">CCI [14]&#160; 62.0</text>
<rect x="5.5" y="691.5" width="10.5" height="5.5" fill="#8a8a8a"/>
<rect x="5.5" y="698.0" width="10.5" height="1.6" fill="#8a8a8a"/>
<path d="M20.5,692.5 L27,699.5 M27,692.5 L20.5,699.5" stroke="#8a8a8a" stroke-width="2.6"/>
<text x="31" y="702.0" font-size="10" fill="#e2e2e2" font-weight="normal" text-anchor="start" letter-spacing="0" stroke="#e2e2e2" stroke-width="0.2">SRSI [28]&#160; 0.3025</text>
<text x="1422" y="60.0" font-size="12" fill="#d8d8d8" font-weight="bold" text-anchor="start" >6164.9</text>
<text x="1422" y="98.0" font-size="12" fill="#d8d8d8" font-weight="bold" text-anchor="start" >6004.6</text>
<text x="1422" y="135.0" font-size="12" fill="#d8d8d8" font-weight="bold" text-anchor="start" >5844.4</text>
<text x="1422" y="172.0" font-size="12" fill="#d8d8d8" font-weight="bold" text-anchor="start" >5684.2</text>
<text x="1422" y="210.0" font-size="12" fill="#d8d8d8" font-weight="bold" text-anchor="start" >5523.9</text>
<text x="1422" y="248.0" font-size="12" fill="#d8d8d8" font-weight="bold" text-anchor="start" >5363.7</text>
<text x="1422" y="285.0" font-size="12" fill="#d8d8d8" font-weight="bold" text-anchor="start" >5203.5</text>
<text x="1422" y="322.0" font-size="12" fill="#d8d8d8" font-weight="bold" text-anchor="start" >5043.3</text>
<text x="1422" y="360.0" font-size="12" fill="#d8d8d8" font-weight="bold" text-anchor="start" >4883.0</text>
<text x="1422" y="397.0" font-size="12" fill="#d8d8d8" font-weight="bold" text-anchor="start" >4722.8</text>
<text x="1422" y="435.0" font-size="12" fill="#d8d8d8" font-weight="bold" text-anchor="start" >4562.6</text>
<text x="1422" y="466.5" font-size="12" fill="#d8d8d8" font-weight="bold" text-anchor="start" >4402.4</text>
<text x="1422" y="479.5" font-size="12" fill="#d8d8d8" font-weight="bold" text-anchor="start" >48.48533</text>
<text x="1422" y="505.0" font-size="12" fill="#d8d8d8" font-weight="bold" text-anchor="start" >0.00000</text>
<text x="1422" y="533.5" font-size="12" fill="#d8d8d8" font-weight="bold" text-anchor="start" >-48.4853</text>
<text x="1422" y="557.0" font-size="12" fill="#d8d8d8" font-weight="bold" text-anchor="start" >70.0</text>
<text x="1422" y="598.5" font-size="12" fill="#d8d8d8" font-weight="bold" text-anchor="start" >0.0</text>
<text x="1422" y="621.5" font-size="12" fill="#d8d8d8" font-weight="bold" text-anchor="start" >200.0</text>
<text x="1422" y="636.0" font-size="12" fill="#d8d8d8" font-weight="bold" text-anchor="start" >0.0</text>
<text x="1422" y="651.0" font-size="12" fill="#d8d8d8" font-weight="bold" text-anchor="start" >-200.0</text>
<text x="1422" y="679.0" font-size="12" fill="#d8d8d8" font-weight="bold" text-anchor="start" >0.8000</text>
<text x="1422" y="706.5" font-size="12" fill="#d8d8d8" font-weight="bold" text-anchor="start" >0.0000</text>
<path d="M1411.5,101.5 L1419,93 L1470,93 L1470,110 L1419,110 Z" fill="#48545c"/>
<text x="1422" y="106" font-size="12" fill="#f2f2f2" font-weight="bold" text-anchor="start" >5969.2</text>
<text x="5.0" y="718.5" font-size="12" fill="#d4d4d4" font-weight="bold" text-anchor="start" >18.03.2024</text>
<text x="143.0" y="718.5" font-size="12" fill="#d4d4d4" font-weight="bold" text-anchor="start" >16.05.2024</text>
<text x="282.0" y="718.5" font-size="12" fill="#d4d4d4" font-weight="bold" text-anchor="start" >16.07.2024</text>
<text x="421.0" y="718.5" font-size="12" fill="#d4d4d4" font-weight="bold" text-anchor="start" >13.09.2024</text>
<text x="560.0" y="718.5" font-size="12" fill="#d4d4d4" font-weight="bold" text-anchor="start" >12.11.2024</text>
<text x="699.0" y="718.5" font-size="12" fill="#d4d4d4" font-weight="bold" text-anchor="start" >14.01.2025</text>
<text x="838.0" y="718.5" font-size="12" fill="#d4d4d4" font-weight="bold" text-anchor="start" >26.02.2025</text>
<text x="977.0" y="718.5" font-size="12" fill="#d4d4d4" font-weight="bold" text-anchor="start" >10.04.2025</text>
<text x="1115.0" y="718.5" font-size="12" fill="#d4d4d4" font-weight="bold" text-anchor="start" >23.05.2025</text>
<text x="1254.0" y="718.5" font-size="12" fill="#d4d4d4" font-weight="bold" text-anchor="start" >05.07.2025</text>
<text x="1393.0" y="718.5" font-size="12" fill="#d4d4d4" font-weight="bold" text-anchor="start" >17.08.2025</text>
<rect x="10" y="8" width="167" height="24" rx="2" fill="#141c21"/>
<rect x="126" y="11" width="45" height="17" rx="2" fill="#121a1f"/>
<text x="19.5" y="23.3" font-size="12" fill="#e4e4e4" font-weight="bold" text-anchor="start" letter-spacing="-0.25">US500</text>
<text x="59.5" y="22" font-size="7.4" fill="#8a9aa3" font-weight="bold" text-anchor="start" >CFD</text>
<path d="M83,15 L91,15 L87,19.5 Z" fill="#d8d8d8"/>
<text x="132" y="24" font-size="10" fill="#e0e0e0" font-weight="bold" text-anchor="start" >D1</text>
<path d="M159,17 L167,17 L163,21.5 Z" fill="#d8d8d8"/>
</svg></body></html>
